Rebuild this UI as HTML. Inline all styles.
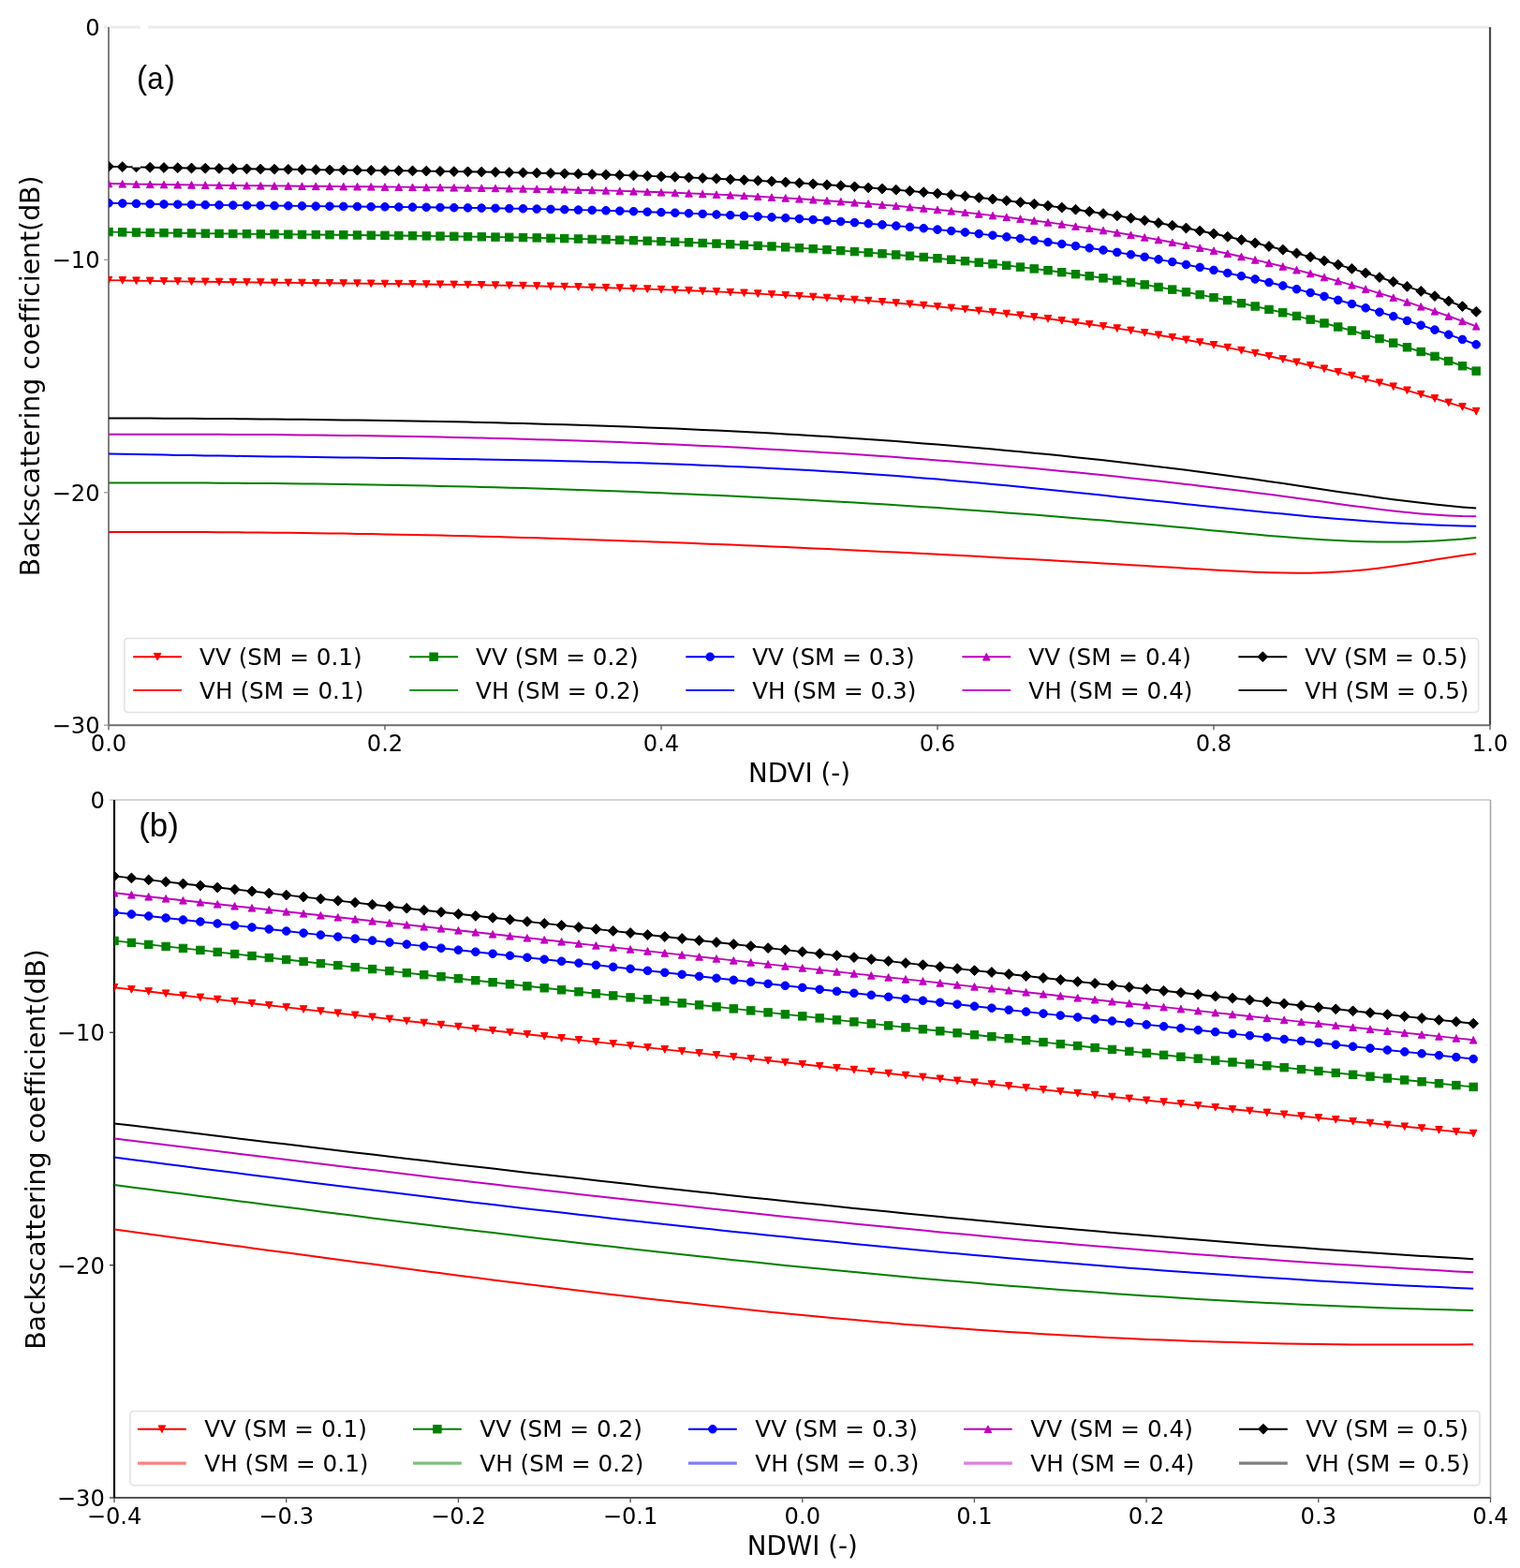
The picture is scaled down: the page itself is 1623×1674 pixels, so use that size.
<!DOCTYPE html>
<html><head><meta charset="utf-8"><title>Backscattering coefficient vs NDVI / NDWI</title>
<style>html,body{margin:0;padding:0;background:#fff;}svg{display:block;}text{font-variant-ligatures:none;font-feature-settings:'liga' 0,'clig' 0;}</style>
</head><body>
<svg width="1623" height="1674" viewBox="0 0 1623 1674" font-family="'DejaVu Sans', sans-serif" fill="#000">
<rect width="1623" height="1674" fill="#fff"/>
<clipPath id="ca"><rect x="116.0" y="19.0" width="1475.0" height="755.2"/></clipPath>
<line x1="111.0" y1="29.0" x2="1591.0" y2="29.0" stroke="#ececec" stroke-width="3.0"/>
<line x1="1591.0" y1="29.0" x2="1591.0" y2="774.2" stroke="#4a4a4a" stroke-width="2.2"/>
<line x1="116.0" y1="774.2" x2="1591.0" y2="774.2" stroke="#6e6e6e" stroke-width="2.0"/>
<line x1="116.0" y1="29.0" x2="116.0" y2="774.2" stroke="#808080" stroke-width="2.0"/>
<g clip-path="url(#ca)">
<polyline points="116.0,568.0 130.8,568.0 145.5,567.9 160.2,567.9 175.0,567.9 189.8,568.0 204.5,568.0 219.2,568.1 234.0,568.2 248.8,568.3 263.5,568.4 278.2,568.5 293.0,568.7 307.8,568.8 322.5,569.0 337.2,569.2 352.0,569.4 366.8,569.6 381.5,569.9 396.2,570.1 411.0,570.4 425.8,570.7 440.5,571.0 455.2,571.3 470.0,571.6 484.8,572.0 499.5,572.3 514.2,572.7 529.0,573.1 543.8,573.5 558.5,573.9 573.2,574.3 588.0,574.8 602.8,575.2 617.5,575.7 632.2,576.2 647.0,576.7 661.8,577.2 676.5,577.7 691.2,578.2 706.0,578.7 720.8,579.3 735.5,579.8 750.2,580.4 765.0,581.0 779.8,581.6 794.5,582.2 809.2,582.8 824.0,583.5 838.8,584.1 853.5,584.8 868.2,585.4 883.0,586.1 897.8,586.8 912.5,587.5 927.2,588.2 942.0,588.9 956.8,589.6 971.5,590.3 986.2,591.1 1001.0,591.8 1015.8,592.6 1030.5,593.3 1045.2,594.1 1060.0,594.9 1074.8,595.7 1089.5,596.5 1104.2,597.3 1119.0,598.1 1133.8,598.9 1148.5,599.8 1163.2,600.6 1178.0,601.5 1192.8,602.3 1207.5,603.2 1222.2,604.0 1237.0,604.9 1251.8,605.8 1266.5,606.7 1281.2,607.6 1296.0,608.5 1310.8,609.3 1325.5,610.1 1340.2,610.7 1355.0,611.3 1369.8,611.6 1384.5,611.8 1399.2,611.7 1414.0,611.3 1428.8,610.6 1443.5,609.6 1458.2,608.2 1473.0,606.5 1487.8,604.5 1502.5,602.3 1517.2,600.0 1532.0,597.6 1546.8,595.3 1561.5,593.0 1576.2,590.9" fill="none" stroke="#ff0000" stroke-width="2.0" stroke-linejoin="round"/>
<polyline points="116.0,515.5 130.8,515.5 145.5,515.5 160.2,515.5 175.0,515.5 189.8,515.5 204.5,515.6 219.2,515.6 234.0,515.7 248.8,515.8 263.5,515.9 278.2,516.0 293.0,516.1 307.8,516.3 322.5,516.5 337.2,516.6 352.0,516.8 366.8,517.0 381.5,517.2 396.2,517.5 411.0,517.7 425.8,518.0 440.5,518.3 455.2,518.6 470.0,518.9 484.8,519.2 499.5,519.6 514.2,519.9 529.0,520.3 543.8,520.7 558.5,521.1 573.2,521.6 588.0,522.0 602.8,522.5 617.5,523.0 632.2,523.5 647.0,524.0 661.8,524.5 676.5,525.1 691.2,525.7 706.0,526.3 720.8,526.9 735.5,527.5 750.2,528.2 765.0,528.8 779.8,529.5 794.5,530.2 809.2,530.9 824.0,531.7 838.8,532.4 853.5,533.2 868.2,534.0 883.0,534.9 897.8,535.7 912.5,536.6 927.2,537.4 942.0,538.3 956.8,539.3 971.5,540.2 986.2,541.2 1001.0,542.1 1015.8,543.2 1030.5,544.2 1045.2,545.2 1060.0,546.3 1074.8,547.4 1089.5,548.5 1104.2,549.6 1119.0,550.8 1133.8,552.0 1148.5,553.2 1163.2,554.4 1178.0,555.6 1192.8,556.9 1207.5,558.2 1222.2,559.5 1237.0,560.8 1251.8,562.2 1266.5,563.5 1281.2,564.9 1296.0,566.4 1310.8,567.8 1325.5,569.2 1340.2,570.5 1355.0,571.9 1369.8,573.1 1384.5,574.3 1399.2,575.3 1414.0,576.3 1428.8,577.1 1443.5,577.7 1458.2,578.2 1473.0,578.5 1487.8,578.6 1502.5,578.5 1517.2,578.1 1532.0,577.5 1546.8,576.6 1561.5,575.5 1576.2,574.0" fill="none" stroke="#008000" stroke-width="2.0" stroke-linejoin="round"/>
<polyline points="116.0,484.4 130.8,484.7 145.5,485.0 160.2,485.3 175.0,485.6 189.8,485.9 204.5,486.1 219.2,486.4 234.0,486.6 248.8,486.8 263.5,487.0 278.2,487.2 293.0,487.4 307.8,487.6 322.5,487.8 337.2,488.0 352.0,488.2 366.8,488.4 381.5,488.6 396.2,488.7 411.0,488.9 425.8,489.1 440.5,489.3 455.2,489.5 470.0,489.7 484.8,490.0 499.5,490.2 514.2,490.4 529.0,490.7 543.8,491.0 558.5,491.2 573.2,491.5 588.0,491.8 602.8,492.2 617.5,492.5 632.2,492.9 647.0,493.3 661.8,493.7 676.5,494.1 691.2,494.6 706.0,495.1 720.8,495.6 735.5,496.1 750.2,496.7 765.0,497.3 779.8,497.9 794.5,498.5 809.2,499.2 824.0,499.9 838.8,500.7 853.5,501.5 868.2,502.3 883.0,503.2 897.8,504.1 912.5,505.0 927.2,506.0 942.0,507.1 956.8,508.1 971.5,509.3 986.2,510.4 1001.0,511.6 1015.8,512.9 1030.5,514.2 1045.2,515.5 1060.0,516.9 1074.8,518.3 1089.5,519.8 1104.2,521.2 1119.0,522.7 1133.8,524.2 1148.5,525.7 1163.2,527.3 1178.0,528.8 1192.8,530.4 1207.5,531.9 1222.2,533.5 1237.0,535.0 1251.8,536.6 1266.5,538.2 1281.2,539.7 1296.0,541.2 1310.8,542.8 1325.5,544.3 1340.2,545.7 1355.0,547.2 1369.8,548.6 1384.5,550.0 1399.2,551.4 1414.0,552.7 1428.8,553.9 1443.5,555.1 1458.2,556.2 1473.0,557.3 1487.8,558.2 1502.5,559.1 1517.2,559.8 1532.0,560.5 1546.8,561.1 1561.5,561.5 1576.2,561.8" fill="none" stroke="#0000ff" stroke-width="2.0" stroke-linejoin="round"/>
<polyline points="116.0,463.7 130.8,463.7 145.5,463.7 160.2,463.7 175.0,463.7 189.8,463.7 204.5,463.7 219.2,463.8 234.0,463.8 248.8,463.9 263.5,463.9 278.2,464.0 293.0,464.1 307.8,464.3 322.5,464.4 337.2,464.5 352.0,464.7 366.8,464.9 381.5,465.1 396.2,465.3 411.0,465.5 425.8,465.8 440.5,466.0 455.2,466.3 470.0,466.6 484.8,466.9 499.5,467.2 514.2,467.6 529.0,468.0 543.8,468.3 558.5,468.7 573.2,469.2 588.0,469.6 602.8,470.1 617.5,470.6 632.2,471.1 647.0,471.6 661.8,472.1 676.5,472.7 691.2,473.3 706.0,473.9 720.8,474.6 735.5,475.2 750.2,475.9 765.0,476.6 779.8,477.3 794.5,478.1 809.2,478.9 824.0,479.7 838.8,480.5 853.5,481.4 868.2,482.3 883.0,483.2 897.8,484.1 912.5,485.1 927.2,486.0 942.0,487.1 956.8,488.1 971.5,489.2 986.2,490.3 1001.0,491.4 1015.8,492.6 1030.5,493.7 1045.2,495.0 1060.0,496.2 1074.8,497.5 1089.5,498.8 1104.2,500.1 1119.0,501.5 1133.8,502.9 1148.5,504.3 1163.2,505.8 1178.0,507.3 1192.8,508.8 1207.5,510.4 1222.2,511.9 1237.0,513.6 1251.8,515.2 1266.5,516.9 1281.2,518.7 1296.0,520.4 1310.8,522.2 1325.5,524.0 1340.2,525.9 1355.0,527.8 1369.8,529.8 1384.5,531.7 1399.2,533.8 1414.0,535.8 1428.8,537.9 1443.5,539.9 1458.2,541.8 1473.0,543.7 1487.8,545.5 1502.5,547.0 1517.2,548.4 1532.0,549.6 1546.8,550.5 1561.5,551.1 1576.2,551.3" fill="none" stroke="#bf00bf" stroke-width="2.0" stroke-linejoin="round"/>
<polyline points="116.0,446.4 130.8,446.4 145.5,446.5 160.2,446.6 175.0,446.7 189.8,446.7 204.5,446.8 219.2,446.9 234.0,447.0 248.8,447.1 263.5,447.3 278.2,447.4 293.0,447.5 307.8,447.7 322.5,447.8 337.2,448.0 352.0,448.2 366.8,448.4 381.5,448.6 396.2,448.8 411.0,449.0 425.8,449.2 440.5,449.5 455.2,449.7 470.0,450.0 484.8,450.3 499.5,450.6 514.2,451.0 529.0,451.3 543.8,451.7 558.5,452.1 573.2,452.5 588.0,452.9 602.8,453.3 617.5,453.8 632.2,454.3 647.0,454.8 661.8,455.3 676.5,455.8 691.2,456.4 706.0,457.0 720.8,457.6 735.5,458.3 750.2,458.9 765.0,459.6 779.8,460.3 794.5,461.1 809.2,461.8 824.0,462.6 838.8,463.5 853.5,464.3 868.2,465.2 883.0,466.1 897.8,467.1 912.5,468.0 927.2,469.0 942.0,470.1 956.8,471.1 971.5,472.2 986.2,473.4 1001.0,474.5 1015.8,475.7 1030.5,477.0 1045.2,478.2 1060.0,479.5 1074.8,480.9 1089.5,482.3 1104.2,483.7 1119.0,485.1 1133.8,486.6 1148.5,488.2 1163.2,489.7 1178.0,491.3 1192.8,493.0 1207.5,494.7 1222.2,496.4 1237.0,498.2 1251.8,500.0 1266.5,501.8 1281.2,503.7 1296.0,505.7 1310.8,507.7 1325.5,509.7 1340.2,511.8 1355.0,513.9 1369.8,516.1 1384.5,518.3 1399.2,520.5 1414.0,522.7 1428.8,524.9 1443.5,527.0 1458.2,529.1 1473.0,531.2 1487.8,533.2 1502.5,535.1 1517.2,536.8 1532.0,538.5 1546.8,540.0 1561.5,541.4 1576.2,542.6" fill="none" stroke="#000000" stroke-width="2.0" stroke-linejoin="round"/>
<polyline points="116.0,299.1 130.8,299.4 145.5,299.7 160.2,299.9 175.0,300.2 189.8,300.4 204.5,300.6 219.2,300.8 234.0,301.0 248.8,301.2 263.5,301.4 278.2,301.5 293.0,301.7 307.8,301.9 322.5,302.0 337.2,302.2 352.0,302.3 366.8,302.5 381.5,302.6 396.2,302.8 411.0,303.0 425.8,303.1 440.5,303.3 455.2,303.5 470.0,303.7 484.8,303.9 499.5,304.1 514.2,304.3 529.0,304.6 543.8,304.8 558.5,305.1 573.2,305.4 588.0,305.7 602.8,306.1 617.5,306.4 632.2,306.8 647.0,307.2 661.8,307.6 676.5,308.1 691.2,308.6 706.0,309.1 720.8,309.6 735.5,310.2 750.2,310.8 765.0,311.4 779.8,312.1 794.5,312.8 809.2,313.6 824.0,314.4 838.8,315.2 853.5,316.1 868.2,317.0 883.0,318.0 897.8,319.0 912.5,320.0 927.2,321.1 942.0,322.3 956.8,323.5 971.5,324.7 986.2,326.0 1001.0,327.4 1015.8,328.8 1030.5,330.2 1045.2,331.8 1060.0,333.4 1074.8,335.0 1089.5,336.7 1104.2,338.5 1119.0,340.3 1133.8,342.3 1148.5,344.2 1163.2,346.3 1178.0,348.4 1192.8,350.6 1207.5,352.9 1222.2,355.3 1237.0,357.7 1251.8,360.2 1266.5,362.8 1281.2,365.5 1296.0,368.3 1310.8,371.1 1325.5,374.1 1340.2,377.1 1355.0,380.2 1369.8,383.5 1384.5,386.8 1399.2,390.2 1414.0,393.7 1428.8,397.3 1443.5,401.0 1458.2,404.8 1473.0,408.7 1487.8,412.7 1502.5,416.8 1517.2,421.1 1532.0,425.4 1546.8,429.9 1561.5,434.4 1576.2,439.1" fill="none" stroke="#ff0000" stroke-width="1.9" stroke-linejoin="round"/>
<g><path d="M116.0 302.9L119.8 295.3L112.2 295.3Z" fill="#ff0000" stroke="#ff0000" stroke-width="1"/><path d="M130.8 303.2L134.6 295.6L127.0 295.6Z" fill="#ff0000" stroke="#ff0000" stroke-width="1"/><path d="M145.5 303.5L149.3 295.9L141.7 295.9Z" fill="#ff0000" stroke="#ff0000" stroke-width="1"/><path d="M160.2 303.7L164.1 296.1L156.4 296.1Z" fill="#ff0000" stroke="#ff0000" stroke-width="1"/><path d="M175.0 304.0L178.8 296.4L171.2 296.4Z" fill="#ff0000" stroke="#ff0000" stroke-width="1"/><path d="M189.8 304.2L193.6 296.6L185.9 296.6Z" fill="#ff0000" stroke="#ff0000" stroke-width="1"/><path d="M204.5 304.4L208.3 296.8L200.7 296.8Z" fill="#ff0000" stroke="#ff0000" stroke-width="1"/><path d="M219.2 304.6L223.1 297.0L215.4 297.0Z" fill="#ff0000" stroke="#ff0000" stroke-width="1"/><path d="M234.0 304.8L237.8 297.2L230.2 297.2Z" fill="#ff0000" stroke="#ff0000" stroke-width="1"/><path d="M248.8 305.0L252.6 297.4L244.9 297.4Z" fill="#ff0000" stroke="#ff0000" stroke-width="1"/><path d="M263.5 305.2L267.3 297.6L259.7 297.6Z" fill="#ff0000" stroke="#ff0000" stroke-width="1"/><path d="M278.2 305.3L282.1 297.7L274.4 297.7Z" fill="#ff0000" stroke="#ff0000" stroke-width="1"/><path d="M293.0 305.5L296.8 297.9L289.2 297.9Z" fill="#ff0000" stroke="#ff0000" stroke-width="1"/><path d="M307.8 305.7L311.6 298.1L303.9 298.1Z" fill="#ff0000" stroke="#ff0000" stroke-width="1"/><path d="M322.5 305.8L326.3 298.2L318.7 298.2Z" fill="#ff0000" stroke="#ff0000" stroke-width="1"/><path d="M337.2 306.0L341.1 298.4L333.4 298.4Z" fill="#ff0000" stroke="#ff0000" stroke-width="1"/><path d="M352.0 306.1L355.8 298.5L348.2 298.5Z" fill="#ff0000" stroke="#ff0000" stroke-width="1"/><path d="M366.8 306.3L370.6 298.7L362.9 298.7Z" fill="#ff0000" stroke="#ff0000" stroke-width="1"/><path d="M381.5 306.4L385.3 298.8L377.7 298.8Z" fill="#ff0000" stroke="#ff0000" stroke-width="1"/><path d="M396.2 306.6L400.1 299.0L392.4 299.0Z" fill="#ff0000" stroke="#ff0000" stroke-width="1"/><path d="M411.0 306.8L414.8 299.2L407.2 299.2Z" fill="#ff0000" stroke="#ff0000" stroke-width="1"/><path d="M425.8 306.9L429.6 299.3L421.9 299.3Z" fill="#ff0000" stroke="#ff0000" stroke-width="1"/><path d="M440.5 307.1L444.3 299.5L436.7 299.5Z" fill="#ff0000" stroke="#ff0000" stroke-width="1"/><path d="M455.2 307.3L459.1 299.7L451.4 299.7Z" fill="#ff0000" stroke="#ff0000" stroke-width="1"/><path d="M470.0 307.5L473.8 299.9L466.2 299.9Z" fill="#ff0000" stroke="#ff0000" stroke-width="1"/><path d="M484.8 307.7L488.6 300.1L480.9 300.1Z" fill="#ff0000" stroke="#ff0000" stroke-width="1"/><path d="M499.5 307.9L503.3 300.3L495.7 300.3Z" fill="#ff0000" stroke="#ff0000" stroke-width="1"/><path d="M514.2 308.1L518.0 300.5L510.4 300.5Z" fill="#ff0000" stroke="#ff0000" stroke-width="1"/><path d="M529.0 308.4L532.8 300.8L525.2 300.8Z" fill="#ff0000" stroke="#ff0000" stroke-width="1"/><path d="M543.8 308.6L547.5 301.0L540.0 301.0Z" fill="#ff0000" stroke="#ff0000" stroke-width="1"/><path d="M558.5 308.9L562.3 301.3L554.7 301.3Z" fill="#ff0000" stroke="#ff0000" stroke-width="1"/><path d="M573.2 309.2L577.0 301.6L569.5 301.6Z" fill="#ff0000" stroke="#ff0000" stroke-width="1"/><path d="M588.0 309.5L591.8 301.9L584.2 301.9Z" fill="#ff0000" stroke="#ff0000" stroke-width="1"/><path d="M602.8 309.9L606.5 302.3L599.0 302.3Z" fill="#ff0000" stroke="#ff0000" stroke-width="1"/><path d="M617.5 310.2L621.3 302.6L613.7 302.6Z" fill="#ff0000" stroke="#ff0000" stroke-width="1"/><path d="M632.2 310.6L636.0 303.0L628.5 303.0Z" fill="#ff0000" stroke="#ff0000" stroke-width="1"/><path d="M647.0 311.0L650.8 303.4L643.2 303.4Z" fill="#ff0000" stroke="#ff0000" stroke-width="1"/><path d="M661.8 311.4L665.5 303.8L658.0 303.8Z" fill="#ff0000" stroke="#ff0000" stroke-width="1"/><path d="M676.5 311.9L680.3 304.3L672.7 304.3Z" fill="#ff0000" stroke="#ff0000" stroke-width="1"/><path d="M691.2 312.4L695.0 304.8L687.5 304.8Z" fill="#ff0000" stroke="#ff0000" stroke-width="1"/><path d="M706.0 312.9L709.8 305.3L702.2 305.3Z" fill="#ff0000" stroke="#ff0000" stroke-width="1"/><path d="M720.8 313.4L724.5 305.8L717.0 305.8Z" fill="#ff0000" stroke="#ff0000" stroke-width="1"/><path d="M735.5 314.0L739.3 306.4L731.7 306.4Z" fill="#ff0000" stroke="#ff0000" stroke-width="1"/><path d="M750.2 314.6L754.0 307.0L746.5 307.0Z" fill="#ff0000" stroke="#ff0000" stroke-width="1"/><path d="M765.0 315.2L768.8 307.6L761.2 307.6Z" fill="#ff0000" stroke="#ff0000" stroke-width="1"/><path d="M779.8 315.9L783.5 308.3L776.0 308.3Z" fill="#ff0000" stroke="#ff0000" stroke-width="1"/><path d="M794.5 316.6L798.3 309.0L790.7 309.0Z" fill="#ff0000" stroke="#ff0000" stroke-width="1"/><path d="M809.2 317.4L813.0 309.8L805.5 309.8Z" fill="#ff0000" stroke="#ff0000" stroke-width="1"/><path d="M824.0 318.2L827.8 310.6L820.2 310.6Z" fill="#ff0000" stroke="#ff0000" stroke-width="1"/><path d="M838.8 319.0L842.5 311.4L835.0 311.4Z" fill="#ff0000" stroke="#ff0000" stroke-width="1"/><path d="M853.5 319.9L857.3 312.3L849.7 312.3Z" fill="#ff0000" stroke="#ff0000" stroke-width="1"/><path d="M868.2 320.8L872.0 313.2L864.5 313.2Z" fill="#ff0000" stroke="#ff0000" stroke-width="1"/><path d="M883.0 321.8L886.8 314.2L879.2 314.2Z" fill="#ff0000" stroke="#ff0000" stroke-width="1"/><path d="M897.8 322.8L901.5 315.2L894.0 315.2Z" fill="#ff0000" stroke="#ff0000" stroke-width="1"/><path d="M912.5 323.8L916.3 316.2L908.7 316.2Z" fill="#ff0000" stroke="#ff0000" stroke-width="1"/><path d="M927.2 324.9L931.0 317.3L923.5 317.3Z" fill="#ff0000" stroke="#ff0000" stroke-width="1"/><path d="M942.0 326.1L945.8 318.5L938.2 318.5Z" fill="#ff0000" stroke="#ff0000" stroke-width="1"/><path d="M956.8 327.3L960.5 319.7L953.0 319.7Z" fill="#ff0000" stroke="#ff0000" stroke-width="1"/><path d="M971.5 328.5L975.3 320.9L967.7 320.9Z" fill="#ff0000" stroke="#ff0000" stroke-width="1"/><path d="M986.2 329.8L990.0 322.2L982.5 322.2Z" fill="#ff0000" stroke="#ff0000" stroke-width="1"/><path d="M1001.0 331.2L1004.8 323.6L997.2 323.6Z" fill="#ff0000" stroke="#ff0000" stroke-width="1"/><path d="M1015.8 332.6L1019.5 325.0L1012.0 325.0Z" fill="#ff0000" stroke="#ff0000" stroke-width="1"/><path d="M1030.5 334.0L1034.3 326.4L1026.7 326.4Z" fill="#ff0000" stroke="#ff0000" stroke-width="1"/><path d="M1045.2 335.6L1049.0 328.0L1041.5 328.0Z" fill="#ff0000" stroke="#ff0000" stroke-width="1"/><path d="M1060.0 337.2L1063.8 329.6L1056.2 329.6Z" fill="#ff0000" stroke="#ff0000" stroke-width="1"/><path d="M1074.8 338.8L1078.5 331.2L1071.0 331.2Z" fill="#ff0000" stroke="#ff0000" stroke-width="1"/><path d="M1089.5 340.5L1093.3 332.9L1085.7 332.9Z" fill="#ff0000" stroke="#ff0000" stroke-width="1"/><path d="M1104.2 342.3L1108.0 334.7L1100.5 334.7Z" fill="#ff0000" stroke="#ff0000" stroke-width="1"/><path d="M1119.0 344.1L1122.8 336.5L1115.2 336.5Z" fill="#ff0000" stroke="#ff0000" stroke-width="1"/><path d="M1133.8 346.1L1137.5 338.5L1130.0 338.5Z" fill="#ff0000" stroke="#ff0000" stroke-width="1"/><path d="M1148.5 348.0L1152.3 340.4L1144.7 340.4Z" fill="#ff0000" stroke="#ff0000" stroke-width="1"/><path d="M1163.2 350.1L1167.0 342.5L1159.5 342.5Z" fill="#ff0000" stroke="#ff0000" stroke-width="1"/><path d="M1178.0 352.2L1181.8 344.6L1174.2 344.6Z" fill="#ff0000" stroke="#ff0000" stroke-width="1"/><path d="M1192.8 354.4L1196.5 346.8L1189.0 346.8Z" fill="#ff0000" stroke="#ff0000" stroke-width="1"/><path d="M1207.5 356.7L1211.3 349.1L1203.7 349.1Z" fill="#ff0000" stroke="#ff0000" stroke-width="1"/><path d="M1222.2 359.1L1226.0 351.5L1218.5 351.5Z" fill="#ff0000" stroke="#ff0000" stroke-width="1"/><path d="M1237.0 361.5L1240.8 353.9L1233.2 353.9Z" fill="#ff0000" stroke="#ff0000" stroke-width="1"/><path d="M1251.8 364.0L1255.5 356.4L1248.0 356.4Z" fill="#ff0000" stroke="#ff0000" stroke-width="1"/><path d="M1266.5 366.6L1270.3 359.0L1262.7 359.0Z" fill="#ff0000" stroke="#ff0000" stroke-width="1"/><path d="M1281.2 369.3L1285.0 361.7L1277.5 361.7Z" fill="#ff0000" stroke="#ff0000" stroke-width="1"/><path d="M1296.0 372.1L1299.8 364.5L1292.2 364.5Z" fill="#ff0000" stroke="#ff0000" stroke-width="1"/><path d="M1310.8 374.9L1314.5 367.3L1307.0 367.3Z" fill="#ff0000" stroke="#ff0000" stroke-width="1"/><path d="M1325.5 377.9L1329.3 370.3L1321.7 370.3Z" fill="#ff0000" stroke="#ff0000" stroke-width="1"/><path d="M1340.2 380.9L1344.0 373.3L1336.5 373.3Z" fill="#ff0000" stroke="#ff0000" stroke-width="1"/><path d="M1355.0 384.0L1358.8 376.4L1351.2 376.4Z" fill="#ff0000" stroke="#ff0000" stroke-width="1"/><path d="M1369.8 387.3L1373.5 379.7L1366.0 379.7Z" fill="#ff0000" stroke="#ff0000" stroke-width="1"/><path d="M1384.5 390.6L1388.3 383.0L1380.7 383.0Z" fill="#ff0000" stroke="#ff0000" stroke-width="1"/><path d="M1399.2 394.0L1403.0 386.4L1395.5 386.4Z" fill="#ff0000" stroke="#ff0000" stroke-width="1"/><path d="M1414.0 397.5L1417.8 389.9L1410.2 389.9Z" fill="#ff0000" stroke="#ff0000" stroke-width="1"/><path d="M1428.8 401.1L1432.5 393.5L1425.0 393.5Z" fill="#ff0000" stroke="#ff0000" stroke-width="1"/><path d="M1443.5 404.8L1447.3 397.2L1439.7 397.2Z" fill="#ff0000" stroke="#ff0000" stroke-width="1"/><path d="M1458.2 408.6L1462.0 401.0L1454.5 401.0Z" fill="#ff0000" stroke="#ff0000" stroke-width="1"/><path d="M1473.0 412.5L1476.8 404.9L1469.2 404.9Z" fill="#ff0000" stroke="#ff0000" stroke-width="1"/><path d="M1487.8 416.5L1491.5 408.9L1484.0 408.9Z" fill="#ff0000" stroke="#ff0000" stroke-width="1"/><path d="M1502.5 420.6L1506.3 413.0L1498.7 413.0Z" fill="#ff0000" stroke="#ff0000" stroke-width="1"/><path d="M1517.2 424.9L1521.0 417.3L1513.5 417.3Z" fill="#ff0000" stroke="#ff0000" stroke-width="1"/><path d="M1532.0 429.2L1535.8 421.6L1528.2 421.6Z" fill="#ff0000" stroke="#ff0000" stroke-width="1"/><path d="M1546.8 433.7L1550.5 426.1L1543.0 426.1Z" fill="#ff0000" stroke="#ff0000" stroke-width="1"/><path d="M1561.5 438.2L1565.3 430.6L1557.7 430.6Z" fill="#ff0000" stroke="#ff0000" stroke-width="1"/><path d="M1576.2 442.9L1580.0 435.3L1572.5 435.3Z" fill="#ff0000" stroke="#ff0000" stroke-width="1"/></g>
<polyline points="116.0,247.6 130.8,247.9 145.5,248.1 160.2,248.4 175.0,248.6 189.8,248.8 204.5,249.0 219.2,249.2 234.0,249.4 248.8,249.5 263.5,249.7 278.2,249.9 293.0,250.0 307.8,250.2 322.5,250.4 337.2,250.5 352.0,250.7 366.8,250.8 381.5,251.0 396.2,251.2 411.0,251.3 425.8,251.5 440.5,251.7 455.2,251.9 470.0,252.1 484.8,252.3 499.5,252.6 514.2,252.8 529.0,253.1 543.8,253.3 558.5,253.6 573.2,253.9 588.0,254.3 602.8,254.6 617.5,255.0 632.2,255.4 647.0,255.8 661.8,256.2 676.5,256.7 691.2,257.2 706.0,257.7 720.8,258.3 735.5,258.8 750.2,259.5 765.0,260.1 779.8,260.8 794.5,261.5 809.2,262.3 824.0,263.0 838.8,263.9 853.5,264.7 868.2,265.6 883.0,266.6 897.8,267.6 912.5,268.6 927.2,269.7 942.0,270.8 956.8,272.0 971.5,273.2 986.2,274.5 1001.0,275.8 1015.8,277.2 1030.5,278.7 1045.2,280.2 1060.0,281.8 1074.8,283.4 1089.5,285.1 1104.2,286.9 1119.0,288.7 1133.8,290.7 1148.5,292.7 1163.2,294.7 1178.0,296.9 1192.8,299.2 1207.5,301.5 1222.2,303.9 1237.0,306.5 1251.8,309.1 1266.5,311.8 1281.2,314.6 1296.0,317.6 1310.8,320.6 1325.5,323.7 1340.2,327.0 1355.0,330.4 1369.8,333.8 1384.5,337.4 1399.2,341.1 1414.0,345.0 1428.8,349.0 1443.5,353.0 1458.2,357.3 1473.0,361.6 1487.8,366.1 1502.5,370.8 1517.2,375.5 1532.0,380.4 1546.8,385.5 1561.5,390.7 1576.2,396.1" fill="none" stroke="#008000" stroke-width="1.9" stroke-linejoin="round"/>
<g><rect x="111.8" y="243.4" width="8.4" height="8.4" fill="#008000" stroke="#008000" stroke-width="1"/><rect x="126.5" y="243.7" width="8.4" height="8.4" fill="#008000" stroke="#008000" stroke-width="1"/><rect x="141.3" y="243.9" width="8.4" height="8.4" fill="#008000" stroke="#008000" stroke-width="1"/><rect x="156.1" y="244.2" width="8.4" height="8.4" fill="#008000" stroke="#008000" stroke-width="1"/><rect x="170.8" y="244.4" width="8.4" height="8.4" fill="#008000" stroke="#008000" stroke-width="1"/><rect x="185.6" y="244.6" width="8.4" height="8.4" fill="#008000" stroke="#008000" stroke-width="1"/><rect x="200.3" y="244.8" width="8.4" height="8.4" fill="#008000" stroke="#008000" stroke-width="1"/><rect x="215.1" y="245.0" width="8.4" height="8.4" fill="#008000" stroke="#008000" stroke-width="1"/><rect x="229.8" y="245.2" width="8.4" height="8.4" fill="#008000" stroke="#008000" stroke-width="1"/><rect x="244.6" y="245.3" width="8.4" height="8.4" fill="#008000" stroke="#008000" stroke-width="1"/><rect x="259.3" y="245.5" width="8.4" height="8.4" fill="#008000" stroke="#008000" stroke-width="1"/><rect x="274.1" y="245.7" width="8.4" height="8.4" fill="#008000" stroke="#008000" stroke-width="1"/><rect x="288.8" y="245.8" width="8.4" height="8.4" fill="#008000" stroke="#008000" stroke-width="1"/><rect x="303.6" y="246.0" width="8.4" height="8.4" fill="#008000" stroke="#008000" stroke-width="1"/><rect x="318.3" y="246.2" width="8.4" height="8.4" fill="#008000" stroke="#008000" stroke-width="1"/><rect x="333.1" y="246.3" width="8.4" height="8.4" fill="#008000" stroke="#008000" stroke-width="1"/><rect x="347.8" y="246.5" width="8.4" height="8.4" fill="#008000" stroke="#008000" stroke-width="1"/><rect x="362.6" y="246.6" width="8.4" height="8.4" fill="#008000" stroke="#008000" stroke-width="1"/><rect x="377.3" y="246.8" width="8.4" height="8.4" fill="#008000" stroke="#008000" stroke-width="1"/><rect x="392.1" y="247.0" width="8.4" height="8.4" fill="#008000" stroke="#008000" stroke-width="1"/><rect x="406.8" y="247.1" width="8.4" height="8.4" fill="#008000" stroke="#008000" stroke-width="1"/><rect x="421.6" y="247.3" width="8.4" height="8.4" fill="#008000" stroke="#008000" stroke-width="1"/><rect x="436.3" y="247.5" width="8.4" height="8.4" fill="#008000" stroke="#008000" stroke-width="1"/><rect x="451.1" y="247.7" width="8.4" height="8.4" fill="#008000" stroke="#008000" stroke-width="1"/><rect x="465.8" y="247.9" width="8.4" height="8.4" fill="#008000" stroke="#008000" stroke-width="1"/><rect x="480.6" y="248.1" width="8.4" height="8.4" fill="#008000" stroke="#008000" stroke-width="1"/><rect x="495.3" y="248.4" width="8.4" height="8.4" fill="#008000" stroke="#008000" stroke-width="1"/><rect x="510.1" y="248.6" width="8.4" height="8.4" fill="#008000" stroke="#008000" stroke-width="1"/><rect x="524.8" y="248.9" width="8.4" height="8.4" fill="#008000" stroke="#008000" stroke-width="1"/><rect x="539.5" y="249.1" width="8.4" height="8.4" fill="#008000" stroke="#008000" stroke-width="1"/><rect x="554.3" y="249.4" width="8.4" height="8.4" fill="#008000" stroke="#008000" stroke-width="1"/><rect x="569.0" y="249.7" width="8.4" height="8.4" fill="#008000" stroke="#008000" stroke-width="1"/><rect x="583.8" y="250.1" width="8.4" height="8.4" fill="#008000" stroke="#008000" stroke-width="1"/><rect x="598.5" y="250.4" width="8.4" height="8.4" fill="#008000" stroke="#008000" stroke-width="1"/><rect x="613.3" y="250.8" width="8.4" height="8.4" fill="#008000" stroke="#008000" stroke-width="1"/><rect x="628.0" y="251.2" width="8.4" height="8.4" fill="#008000" stroke="#008000" stroke-width="1"/><rect x="642.8" y="251.6" width="8.4" height="8.4" fill="#008000" stroke="#008000" stroke-width="1"/><rect x="657.5" y="252.0" width="8.4" height="8.4" fill="#008000" stroke="#008000" stroke-width="1"/><rect x="672.3" y="252.5" width="8.4" height="8.4" fill="#008000" stroke="#008000" stroke-width="1"/><rect x="687.0" y="253.0" width="8.4" height="8.4" fill="#008000" stroke="#008000" stroke-width="1"/><rect x="701.8" y="253.5" width="8.4" height="8.4" fill="#008000" stroke="#008000" stroke-width="1"/><rect x="716.5" y="254.1" width="8.4" height="8.4" fill="#008000" stroke="#008000" stroke-width="1"/><rect x="731.3" y="254.6" width="8.4" height="8.4" fill="#008000" stroke="#008000" stroke-width="1"/><rect x="746.0" y="255.3" width="8.4" height="8.4" fill="#008000" stroke="#008000" stroke-width="1"/><rect x="760.8" y="255.9" width="8.4" height="8.4" fill="#008000" stroke="#008000" stroke-width="1"/><rect x="775.5" y="256.6" width="8.4" height="8.4" fill="#008000" stroke="#008000" stroke-width="1"/><rect x="790.3" y="257.3" width="8.4" height="8.4" fill="#008000" stroke="#008000" stroke-width="1"/><rect x="805.0" y="258.1" width="8.4" height="8.4" fill="#008000" stroke="#008000" stroke-width="1"/><rect x="819.8" y="258.8" width="8.4" height="8.4" fill="#008000" stroke="#008000" stroke-width="1"/><rect x="834.5" y="259.7" width="8.4" height="8.4" fill="#008000" stroke="#008000" stroke-width="1"/><rect x="849.3" y="260.5" width="8.4" height="8.4" fill="#008000" stroke="#008000" stroke-width="1"/><rect x="864.0" y="261.4" width="8.4" height="8.4" fill="#008000" stroke="#008000" stroke-width="1"/><rect x="878.8" y="262.4" width="8.4" height="8.4" fill="#008000" stroke="#008000" stroke-width="1"/><rect x="893.5" y="263.4" width="8.4" height="8.4" fill="#008000" stroke="#008000" stroke-width="1"/><rect x="908.3" y="264.4" width="8.4" height="8.4" fill="#008000" stroke="#008000" stroke-width="1"/><rect x="923.0" y="265.5" width="8.4" height="8.4" fill="#008000" stroke="#008000" stroke-width="1"/><rect x="937.8" y="266.6" width="8.4" height="8.4" fill="#008000" stroke="#008000" stroke-width="1"/><rect x="952.5" y="267.8" width="8.4" height="8.4" fill="#008000" stroke="#008000" stroke-width="1"/><rect x="967.3" y="269.0" width="8.4" height="8.4" fill="#008000" stroke="#008000" stroke-width="1"/><rect x="982.0" y="270.3" width="8.4" height="8.4" fill="#008000" stroke="#008000" stroke-width="1"/><rect x="996.8" y="271.6" width="8.4" height="8.4" fill="#008000" stroke="#008000" stroke-width="1"/><rect x="1011.5" y="273.0" width="8.4" height="8.4" fill="#008000" stroke="#008000" stroke-width="1"/><rect x="1026.3" y="274.5" width="8.4" height="8.4" fill="#008000" stroke="#008000" stroke-width="1"/><rect x="1041.0" y="276.0" width="8.4" height="8.4" fill="#008000" stroke="#008000" stroke-width="1"/><rect x="1055.8" y="277.6" width="8.4" height="8.4" fill="#008000" stroke="#008000" stroke-width="1"/><rect x="1070.5" y="279.2" width="8.4" height="8.4" fill="#008000" stroke="#008000" stroke-width="1"/><rect x="1085.3" y="280.9" width="8.4" height="8.4" fill="#008000" stroke="#008000" stroke-width="1"/><rect x="1100.0" y="282.7" width="8.4" height="8.4" fill="#008000" stroke="#008000" stroke-width="1"/><rect x="1114.8" y="284.5" width="8.4" height="8.4" fill="#008000" stroke="#008000" stroke-width="1"/><rect x="1129.5" y="286.5" width="8.4" height="8.4" fill="#008000" stroke="#008000" stroke-width="1"/><rect x="1144.3" y="288.5" width="8.4" height="8.4" fill="#008000" stroke="#008000" stroke-width="1"/><rect x="1159.0" y="290.5" width="8.4" height="8.4" fill="#008000" stroke="#008000" stroke-width="1"/><rect x="1173.8" y="292.7" width="8.4" height="8.4" fill="#008000" stroke="#008000" stroke-width="1"/><rect x="1188.5" y="295.0" width="8.4" height="8.4" fill="#008000" stroke="#008000" stroke-width="1"/><rect x="1203.3" y="297.3" width="8.4" height="8.4" fill="#008000" stroke="#008000" stroke-width="1"/><rect x="1218.0" y="299.7" width="8.4" height="8.4" fill="#008000" stroke="#008000" stroke-width="1"/><rect x="1232.8" y="302.3" width="8.4" height="8.4" fill="#008000" stroke="#008000" stroke-width="1"/><rect x="1247.5" y="304.9" width="8.4" height="8.4" fill="#008000" stroke="#008000" stroke-width="1"/><rect x="1262.3" y="307.6" width="8.4" height="8.4" fill="#008000" stroke="#008000" stroke-width="1"/><rect x="1277.0" y="310.4" width="8.4" height="8.4" fill="#008000" stroke="#008000" stroke-width="1"/><rect x="1291.8" y="313.4" width="8.4" height="8.4" fill="#008000" stroke="#008000" stroke-width="1"/><rect x="1306.5" y="316.4" width="8.4" height="8.4" fill="#008000" stroke="#008000" stroke-width="1"/><rect x="1321.3" y="319.5" width="8.4" height="8.4" fill="#008000" stroke="#008000" stroke-width="1"/><rect x="1336.0" y="322.8" width="8.4" height="8.4" fill="#008000" stroke="#008000" stroke-width="1"/><rect x="1350.8" y="326.2" width="8.4" height="8.4" fill="#008000" stroke="#008000" stroke-width="1"/><rect x="1365.5" y="329.6" width="8.4" height="8.4" fill="#008000" stroke="#008000" stroke-width="1"/><rect x="1380.3" y="333.2" width="8.4" height="8.4" fill="#008000" stroke="#008000" stroke-width="1"/><rect x="1395.0" y="336.9" width="8.4" height="8.4" fill="#008000" stroke="#008000" stroke-width="1"/><rect x="1409.8" y="340.8" width="8.4" height="8.4" fill="#008000" stroke="#008000" stroke-width="1"/><rect x="1424.5" y="344.8" width="8.4" height="8.4" fill="#008000" stroke="#008000" stroke-width="1"/><rect x="1439.3" y="348.8" width="8.4" height="8.4" fill="#008000" stroke="#008000" stroke-width="1"/><rect x="1454.0" y="353.1" width="8.4" height="8.4" fill="#008000" stroke="#008000" stroke-width="1"/><rect x="1468.8" y="357.4" width="8.4" height="8.4" fill="#008000" stroke="#008000" stroke-width="1"/><rect x="1483.5" y="361.9" width="8.4" height="8.4" fill="#008000" stroke="#008000" stroke-width="1"/><rect x="1498.3" y="366.6" width="8.4" height="8.4" fill="#008000" stroke="#008000" stroke-width="1"/><rect x="1513.0" y="371.3" width="8.4" height="8.4" fill="#008000" stroke="#008000" stroke-width="1"/><rect x="1527.8" y="376.2" width="8.4" height="8.4" fill="#008000" stroke="#008000" stroke-width="1"/><rect x="1542.5" y="381.3" width="8.4" height="8.4" fill="#008000" stroke="#008000" stroke-width="1"/><rect x="1557.3" y="386.5" width="8.4" height="8.4" fill="#008000" stroke="#008000" stroke-width="1"/><rect x="1572.0" y="391.9" width="8.4" height="8.4" fill="#008000" stroke="#008000" stroke-width="1"/></g>
<polyline points="116.0,216.8 130.8,217.1 145.5,217.4 160.2,217.7 175.0,218.0 189.8,218.2 204.5,218.5 219.2,218.7 234.0,218.9 248.8,219.1 263.5,219.3 278.2,219.4 293.0,219.6 307.8,219.7 322.5,219.9 337.2,220.1 352.0,220.2 366.8,220.4 381.5,220.5 396.2,220.7 411.0,220.8 425.8,221.0 440.5,221.1 455.2,221.3 470.0,221.5 484.8,221.7 499.5,221.9 514.2,222.1 529.0,222.3 543.8,222.6 558.5,222.8 573.2,223.1 588.0,223.4 602.8,223.7 617.5,224.1 632.2,224.4 647.0,224.8 661.8,225.2 676.5,225.7 691.2,226.2 706.0,226.7 720.8,227.2 735.5,227.8 750.2,228.4 765.0,229.0 779.8,229.7 794.5,230.4 809.2,231.1 824.0,231.9 838.8,232.7 853.5,233.6 868.2,234.5 883.0,235.5 897.8,236.5 912.5,237.6 927.2,238.7 942.0,239.9 956.8,241.1 971.5,242.3 986.2,243.7 1001.0,245.1 1015.8,246.5 1030.5,248.0 1045.2,249.6 1060.0,251.2 1074.8,252.9 1089.5,254.7 1104.2,256.6 1119.0,258.5 1133.8,260.5 1148.5,262.6 1163.2,264.8 1178.0,267.0 1192.8,269.4 1207.5,271.8 1222.2,274.3 1237.0,276.9 1251.8,279.6 1266.5,282.5 1281.2,285.4 1296.0,288.4 1310.8,291.5 1325.5,294.7 1340.2,298.0 1355.0,301.5 1369.8,305.0 1384.5,308.7 1399.2,312.5 1414.0,316.4 1428.8,320.4 1443.5,324.5 1458.2,328.8 1473.0,333.2 1487.8,337.7 1502.5,342.4 1517.2,347.2 1532.0,352.1 1546.8,357.2 1561.5,362.4 1576.2,367.8" fill="none" stroke="#0000ff" stroke-width="1.9" stroke-linejoin="round"/>
<g><circle cx="116.0" cy="216.8" r="4.3" fill="#0000ff" stroke="#0000ff" stroke-width="1"/><circle cx="130.8" cy="217.1" r="4.3" fill="#0000ff" stroke="#0000ff" stroke-width="1"/><circle cx="145.5" cy="217.4" r="4.3" fill="#0000ff" stroke="#0000ff" stroke-width="1"/><circle cx="160.2" cy="217.7" r="4.3" fill="#0000ff" stroke="#0000ff" stroke-width="1"/><circle cx="175.0" cy="218.0" r="4.3" fill="#0000ff" stroke="#0000ff" stroke-width="1"/><circle cx="189.8" cy="218.2" r="4.3" fill="#0000ff" stroke="#0000ff" stroke-width="1"/><circle cx="204.5" cy="218.5" r="4.3" fill="#0000ff" stroke="#0000ff" stroke-width="1"/><circle cx="219.2" cy="218.7" r="4.3" fill="#0000ff" stroke="#0000ff" stroke-width="1"/><circle cx="234.0" cy="218.9" r="4.3" fill="#0000ff" stroke="#0000ff" stroke-width="1"/><circle cx="248.8" cy="219.1" r="4.3" fill="#0000ff" stroke="#0000ff" stroke-width="1"/><circle cx="263.5" cy="219.3" r="4.3" fill="#0000ff" stroke="#0000ff" stroke-width="1"/><circle cx="278.2" cy="219.4" r="4.3" fill="#0000ff" stroke="#0000ff" stroke-width="1"/><circle cx="293.0" cy="219.6" r="4.3" fill="#0000ff" stroke="#0000ff" stroke-width="1"/><circle cx="307.8" cy="219.7" r="4.3" fill="#0000ff" stroke="#0000ff" stroke-width="1"/><circle cx="322.5" cy="219.9" r="4.3" fill="#0000ff" stroke="#0000ff" stroke-width="1"/><circle cx="337.2" cy="220.1" r="4.3" fill="#0000ff" stroke="#0000ff" stroke-width="1"/><circle cx="352.0" cy="220.2" r="4.3" fill="#0000ff" stroke="#0000ff" stroke-width="1"/><circle cx="366.8" cy="220.4" r="4.3" fill="#0000ff" stroke="#0000ff" stroke-width="1"/><circle cx="381.5" cy="220.5" r="4.3" fill="#0000ff" stroke="#0000ff" stroke-width="1"/><circle cx="396.2" cy="220.7" r="4.3" fill="#0000ff" stroke="#0000ff" stroke-width="1"/><circle cx="411.0" cy="220.8" r="4.3" fill="#0000ff" stroke="#0000ff" stroke-width="1"/><circle cx="425.8" cy="221.0" r="4.3" fill="#0000ff" stroke="#0000ff" stroke-width="1"/><circle cx="440.5" cy="221.1" r="4.3" fill="#0000ff" stroke="#0000ff" stroke-width="1"/><circle cx="455.2" cy="221.3" r="4.3" fill="#0000ff" stroke="#0000ff" stroke-width="1"/><circle cx="470.0" cy="221.5" r="4.3" fill="#0000ff" stroke="#0000ff" stroke-width="1"/><circle cx="484.8" cy="221.7" r="4.3" fill="#0000ff" stroke="#0000ff" stroke-width="1"/><circle cx="499.5" cy="221.9" r="4.3" fill="#0000ff" stroke="#0000ff" stroke-width="1"/><circle cx="514.2" cy="222.1" r="4.3" fill="#0000ff" stroke="#0000ff" stroke-width="1"/><circle cx="529.0" cy="222.3" r="4.3" fill="#0000ff" stroke="#0000ff" stroke-width="1"/><circle cx="543.8" cy="222.6" r="4.3" fill="#0000ff" stroke="#0000ff" stroke-width="1"/><circle cx="558.5" cy="222.8" r="4.3" fill="#0000ff" stroke="#0000ff" stroke-width="1"/><circle cx="573.2" cy="223.1" r="4.3" fill="#0000ff" stroke="#0000ff" stroke-width="1"/><circle cx="588.0" cy="223.4" r="4.3" fill="#0000ff" stroke="#0000ff" stroke-width="1"/><circle cx="602.8" cy="223.7" r="4.3" fill="#0000ff" stroke="#0000ff" stroke-width="1"/><circle cx="617.5" cy="224.1" r="4.3" fill="#0000ff" stroke="#0000ff" stroke-width="1"/><circle cx="632.2" cy="224.4" r="4.3" fill="#0000ff" stroke="#0000ff" stroke-width="1"/><circle cx="647.0" cy="224.8" r="4.3" fill="#0000ff" stroke="#0000ff" stroke-width="1"/><circle cx="661.8" cy="225.2" r="4.3" fill="#0000ff" stroke="#0000ff" stroke-width="1"/><circle cx="676.5" cy="225.7" r="4.3" fill="#0000ff" stroke="#0000ff" stroke-width="1"/><circle cx="691.2" cy="226.2" r="4.3" fill="#0000ff" stroke="#0000ff" stroke-width="1"/><circle cx="706.0" cy="226.7" r="4.3" fill="#0000ff" stroke="#0000ff" stroke-width="1"/><circle cx="720.8" cy="227.2" r="4.3" fill="#0000ff" stroke="#0000ff" stroke-width="1"/><circle cx="735.5" cy="227.8" r="4.3" fill="#0000ff" stroke="#0000ff" stroke-width="1"/><circle cx="750.2" cy="228.4" r="4.3" fill="#0000ff" stroke="#0000ff" stroke-width="1"/><circle cx="765.0" cy="229.0" r="4.3" fill="#0000ff" stroke="#0000ff" stroke-width="1"/><circle cx="779.8" cy="229.7" r="4.3" fill="#0000ff" stroke="#0000ff" stroke-width="1"/><circle cx="794.5" cy="230.4" r="4.3" fill="#0000ff" stroke="#0000ff" stroke-width="1"/><circle cx="809.2" cy="231.1" r="4.3" fill="#0000ff" stroke="#0000ff" stroke-width="1"/><circle cx="824.0" cy="231.9" r="4.3" fill="#0000ff" stroke="#0000ff" stroke-width="1"/><circle cx="838.8" cy="232.7" r="4.3" fill="#0000ff" stroke="#0000ff" stroke-width="1"/><circle cx="853.5" cy="233.6" r="4.3" fill="#0000ff" stroke="#0000ff" stroke-width="1"/><circle cx="868.2" cy="234.5" r="4.3" fill="#0000ff" stroke="#0000ff" stroke-width="1"/><circle cx="883.0" cy="235.5" r="4.3" fill="#0000ff" stroke="#0000ff" stroke-width="1"/><circle cx="897.8" cy="236.5" r="4.3" fill="#0000ff" stroke="#0000ff" stroke-width="1"/><circle cx="912.5" cy="237.6" r="4.3" fill="#0000ff" stroke="#0000ff" stroke-width="1"/><circle cx="927.2" cy="238.7" r="4.3" fill="#0000ff" stroke="#0000ff" stroke-width="1"/><circle cx="942.0" cy="239.9" r="4.3" fill="#0000ff" stroke="#0000ff" stroke-width="1"/><circle cx="956.8" cy="241.1" r="4.3" fill="#0000ff" stroke="#0000ff" stroke-width="1"/><circle cx="971.5" cy="242.3" r="4.3" fill="#0000ff" stroke="#0000ff" stroke-width="1"/><circle cx="986.2" cy="243.7" r="4.3" fill="#0000ff" stroke="#0000ff" stroke-width="1"/><circle cx="1001.0" cy="245.1" r="4.3" fill="#0000ff" stroke="#0000ff" stroke-width="1"/><circle cx="1015.8" cy="246.5" r="4.3" fill="#0000ff" stroke="#0000ff" stroke-width="1"/><circle cx="1030.5" cy="248.0" r="4.3" fill="#0000ff" stroke="#0000ff" stroke-width="1"/><circle cx="1045.2" cy="249.6" r="4.3" fill="#0000ff" stroke="#0000ff" stroke-width="1"/><circle cx="1060.0" cy="251.2" r="4.3" fill="#0000ff" stroke="#0000ff" stroke-width="1"/><circle cx="1074.8" cy="252.9" r="4.3" fill="#0000ff" stroke="#0000ff" stroke-width="1"/><circle cx="1089.5" cy="254.7" r="4.3" fill="#0000ff" stroke="#0000ff" stroke-width="1"/><circle cx="1104.2" cy="256.6" r="4.3" fill="#0000ff" stroke="#0000ff" stroke-width="1"/><circle cx="1119.0" cy="258.5" r="4.3" fill="#0000ff" stroke="#0000ff" stroke-width="1"/><circle cx="1133.8" cy="260.5" r="4.3" fill="#0000ff" stroke="#0000ff" stroke-width="1"/><circle cx="1148.5" cy="262.6" r="4.3" fill="#0000ff" stroke="#0000ff" stroke-width="1"/><circle cx="1163.2" cy="264.8" r="4.3" fill="#0000ff" stroke="#0000ff" stroke-width="1"/><circle cx="1178.0" cy="267.0" r="4.3" fill="#0000ff" stroke="#0000ff" stroke-width="1"/><circle cx="1192.8" cy="269.4" r="4.3" fill="#0000ff" stroke="#0000ff" stroke-width="1"/><circle cx="1207.5" cy="271.8" r="4.3" fill="#0000ff" stroke="#0000ff" stroke-width="1"/><circle cx="1222.2" cy="274.3" r="4.3" fill="#0000ff" stroke="#0000ff" stroke-width="1"/><circle cx="1237.0" cy="276.9" r="4.3" fill="#0000ff" stroke="#0000ff" stroke-width="1"/><circle cx="1251.8" cy="279.6" r="4.3" fill="#0000ff" stroke="#0000ff" stroke-width="1"/><circle cx="1266.5" cy="282.5" r="4.3" fill="#0000ff" stroke="#0000ff" stroke-width="1"/><circle cx="1281.2" cy="285.4" r="4.3" fill="#0000ff" stroke="#0000ff" stroke-width="1"/><circle cx="1296.0" cy="288.4" r="4.3" fill="#0000ff" stroke="#0000ff" stroke-width="1"/><circle cx="1310.8" cy="291.5" r="4.3" fill="#0000ff" stroke="#0000ff" stroke-width="1"/><circle cx="1325.5" cy="294.7" r="4.3" fill="#0000ff" stroke="#0000ff" stroke-width="1"/><circle cx="1340.2" cy="298.0" r="4.3" fill="#0000ff" stroke="#0000ff" stroke-width="1"/><circle cx="1355.0" cy="301.5" r="4.3" fill="#0000ff" stroke="#0000ff" stroke-width="1"/><circle cx="1369.8" cy="305.0" r="4.3" fill="#0000ff" stroke="#0000ff" stroke-width="1"/><circle cx="1384.5" cy="308.7" r="4.3" fill="#0000ff" stroke="#0000ff" stroke-width="1"/><circle cx="1399.2" cy="312.5" r="4.3" fill="#0000ff" stroke="#0000ff" stroke-width="1"/><circle cx="1414.0" cy="316.4" r="4.3" fill="#0000ff" stroke="#0000ff" stroke-width="1"/><circle cx="1428.8" cy="320.4" r="4.3" fill="#0000ff" stroke="#0000ff" stroke-width="1"/><circle cx="1443.5" cy="324.5" r="4.3" fill="#0000ff" stroke="#0000ff" stroke-width="1"/><circle cx="1458.2" cy="328.8" r="4.3" fill="#0000ff" stroke="#0000ff" stroke-width="1"/><circle cx="1473.0" cy="333.2" r="4.3" fill="#0000ff" stroke="#0000ff" stroke-width="1"/><circle cx="1487.8" cy="337.7" r="4.3" fill="#0000ff" stroke="#0000ff" stroke-width="1"/><circle cx="1502.5" cy="342.4" r="4.3" fill="#0000ff" stroke="#0000ff" stroke-width="1"/><circle cx="1517.2" cy="347.2" r="4.3" fill="#0000ff" stroke="#0000ff" stroke-width="1"/><circle cx="1532.0" cy="352.1" r="4.3" fill="#0000ff" stroke="#0000ff" stroke-width="1"/><circle cx="1546.8" cy="357.2" r="4.3" fill="#0000ff" stroke="#0000ff" stroke-width="1"/><circle cx="1561.5" cy="362.4" r="4.3" fill="#0000ff" stroke="#0000ff" stroke-width="1"/><circle cx="1576.2" cy="367.8" r="4.3" fill="#0000ff" stroke="#0000ff" stroke-width="1"/></g>
<polyline points="116.0,196.0 130.8,196.3 145.5,196.6 160.2,196.8 175.0,197.0 189.8,197.2 204.5,197.4 219.2,197.6 234.0,197.8 248.8,198.0 263.5,198.1 278.2,198.3 293.0,198.4 307.8,198.5 322.5,198.7 337.2,198.8 352.0,198.9 366.8,199.1 381.5,199.2 396.2,199.3 411.0,199.5 425.8,199.6 440.5,199.8 455.2,200.0 470.0,200.1 484.8,200.3 499.5,200.5 514.2,200.7 529.0,200.9 543.8,201.2 558.5,201.4 573.2,201.7 588.0,202.0 602.8,202.3 617.5,202.7 632.2,203.0 647.0,203.4 661.8,203.9 676.5,204.3 691.2,204.8 706.0,205.3 720.8,205.8 735.5,206.4 750.2,207.0 765.0,207.6 779.8,208.3 794.5,209.0 809.2,209.8 824.0,210.6 838.8,211.4 853.5,212.3 868.2,213.2 883.0,214.2 897.8,215.2 912.5,216.3 927.2,217.4 942.0,218.6 956.8,219.8 971.5,221.1 986.2,222.5 1001.0,223.9 1015.8,225.3 1030.5,226.8 1045.2,228.4 1060.0,230.1 1074.8,231.8 1089.5,233.6 1104.2,235.5 1119.0,237.4 1133.8,239.4 1148.5,241.6 1163.2,243.7 1178.0,246.0 1192.8,248.4 1207.5,250.8 1222.2,253.4 1237.0,256.0 1251.8,258.8 1266.5,261.6 1281.2,264.6 1296.0,267.6 1310.8,270.8 1325.5,274.0 1340.2,277.4 1355.0,280.9 1369.8,284.5 1384.5,288.2 1399.2,292.0 1414.0,296.0 1428.8,300.1 1443.5,304.3 1458.2,308.6 1473.0,313.1 1487.8,317.7 1502.5,322.4 1517.2,327.3 1532.0,332.3 1546.8,337.5 1561.5,342.8 1576.2,348.3" fill="none" stroke="#bf00bf" stroke-width="1.9" stroke-linejoin="round"/>
<g><path d="M116.0 192.2L119.8 199.8L112.2 199.8Z" fill="#bf00bf" stroke="#bf00bf" stroke-width="1"/><path d="M130.8 192.5L134.6 200.1L127.0 200.1Z" fill="#bf00bf" stroke="#bf00bf" stroke-width="1"/><path d="M145.5 192.8L149.3 200.4L141.7 200.4Z" fill="#bf00bf" stroke="#bf00bf" stroke-width="1"/><path d="M160.2 193.0L164.1 200.6L156.4 200.6Z" fill="#bf00bf" stroke="#bf00bf" stroke-width="1"/><path d="M175.0 193.2L178.8 200.8L171.2 200.8Z" fill="#bf00bf" stroke="#bf00bf" stroke-width="1"/><path d="M189.8 193.4L193.6 201.0L185.9 201.0Z" fill="#bf00bf" stroke="#bf00bf" stroke-width="1"/><path d="M204.5 193.6L208.3 201.2L200.7 201.2Z" fill="#bf00bf" stroke="#bf00bf" stroke-width="1"/><path d="M219.2 193.8L223.1 201.4L215.4 201.4Z" fill="#bf00bf" stroke="#bf00bf" stroke-width="1"/><path d="M234.0 194.0L237.8 201.6L230.2 201.6Z" fill="#bf00bf" stroke="#bf00bf" stroke-width="1"/><path d="M248.8 194.2L252.6 201.8L244.9 201.8Z" fill="#bf00bf" stroke="#bf00bf" stroke-width="1"/><path d="M263.5 194.3L267.3 201.9L259.7 201.9Z" fill="#bf00bf" stroke="#bf00bf" stroke-width="1"/><path d="M278.2 194.5L282.1 202.1L274.4 202.1Z" fill="#bf00bf" stroke="#bf00bf" stroke-width="1"/><path d="M293.0 194.6L296.8 202.2L289.2 202.2Z" fill="#bf00bf" stroke="#bf00bf" stroke-width="1"/><path d="M307.8 194.7L311.6 202.3L303.9 202.3Z" fill="#bf00bf" stroke="#bf00bf" stroke-width="1"/><path d="M322.5 194.9L326.3 202.5L318.7 202.5Z" fill="#bf00bf" stroke="#bf00bf" stroke-width="1"/><path d="M337.2 195.0L341.1 202.6L333.4 202.6Z" fill="#bf00bf" stroke="#bf00bf" stroke-width="1"/><path d="M352.0 195.1L355.8 202.7L348.2 202.7Z" fill="#bf00bf" stroke="#bf00bf" stroke-width="1"/><path d="M366.8 195.3L370.6 202.9L362.9 202.9Z" fill="#bf00bf" stroke="#bf00bf" stroke-width="1"/><path d="M381.5 195.4L385.3 203.0L377.7 203.0Z" fill="#bf00bf" stroke="#bf00bf" stroke-width="1"/><path d="M396.2 195.5L400.1 203.1L392.4 203.1Z" fill="#bf00bf" stroke="#bf00bf" stroke-width="1"/><path d="M411.0 195.7L414.8 203.3L407.2 203.3Z" fill="#bf00bf" stroke="#bf00bf" stroke-width="1"/><path d="M425.8 195.8L429.6 203.4L421.9 203.4Z" fill="#bf00bf" stroke="#bf00bf" stroke-width="1"/><path d="M440.5 196.0L444.3 203.6L436.7 203.6Z" fill="#bf00bf" stroke="#bf00bf" stroke-width="1"/><path d="M455.2 196.2L459.1 203.8L451.4 203.8Z" fill="#bf00bf" stroke="#bf00bf" stroke-width="1"/><path d="M470.0 196.3L473.8 203.9L466.2 203.9Z" fill="#bf00bf" stroke="#bf00bf" stroke-width="1"/><path d="M484.8 196.5L488.6 204.1L480.9 204.1Z" fill="#bf00bf" stroke="#bf00bf" stroke-width="1"/><path d="M499.5 196.7L503.3 204.3L495.7 204.3Z" fill="#bf00bf" stroke="#bf00bf" stroke-width="1"/><path d="M514.2 196.9L518.0 204.5L510.4 204.5Z" fill="#bf00bf" stroke="#bf00bf" stroke-width="1"/><path d="M529.0 197.1L532.8 204.7L525.2 204.7Z" fill="#bf00bf" stroke="#bf00bf" stroke-width="1"/><path d="M543.8 197.4L547.5 205.0L540.0 205.0Z" fill="#bf00bf" stroke="#bf00bf" stroke-width="1"/><path d="M558.5 197.6L562.3 205.2L554.7 205.2Z" fill="#bf00bf" stroke="#bf00bf" stroke-width="1"/><path d="M573.2 197.9L577.0 205.5L569.5 205.5Z" fill="#bf00bf" stroke="#bf00bf" stroke-width="1"/><path d="M588.0 198.2L591.8 205.8L584.2 205.8Z" fill="#bf00bf" stroke="#bf00bf" stroke-width="1"/><path d="M602.8 198.5L606.5 206.1L599.0 206.1Z" fill="#bf00bf" stroke="#bf00bf" stroke-width="1"/><path d="M617.5 198.9L621.3 206.5L613.7 206.5Z" fill="#bf00bf" stroke="#bf00bf" stroke-width="1"/><path d="M632.2 199.2L636.0 206.8L628.5 206.8Z" fill="#bf00bf" stroke="#bf00bf" stroke-width="1"/><path d="M647.0 199.6L650.8 207.2L643.2 207.2Z" fill="#bf00bf" stroke="#bf00bf" stroke-width="1"/><path d="M661.8 200.1L665.5 207.7L658.0 207.7Z" fill="#bf00bf" stroke="#bf00bf" stroke-width="1"/><path d="M676.5 200.5L680.3 208.1L672.7 208.1Z" fill="#bf00bf" stroke="#bf00bf" stroke-width="1"/><path d="M691.2 201.0L695.0 208.6L687.5 208.6Z" fill="#bf00bf" stroke="#bf00bf" stroke-width="1"/><path d="M706.0 201.5L709.8 209.1L702.2 209.1Z" fill="#bf00bf" stroke="#bf00bf" stroke-width="1"/><path d="M720.8 202.0L724.5 209.6L717.0 209.6Z" fill="#bf00bf" stroke="#bf00bf" stroke-width="1"/><path d="M735.5 202.6L739.3 210.2L731.7 210.2Z" fill="#bf00bf" stroke="#bf00bf" stroke-width="1"/><path d="M750.2 203.2L754.0 210.8L746.5 210.8Z" fill="#bf00bf" stroke="#bf00bf" stroke-width="1"/><path d="M765.0 203.8L768.8 211.4L761.2 211.4Z" fill="#bf00bf" stroke="#bf00bf" stroke-width="1"/><path d="M779.8 204.5L783.5 212.1L776.0 212.1Z" fill="#bf00bf" stroke="#bf00bf" stroke-width="1"/><path d="M794.5 205.2L798.3 212.8L790.7 212.8Z" fill="#bf00bf" stroke="#bf00bf" stroke-width="1"/><path d="M809.2 206.0L813.0 213.6L805.5 213.6Z" fill="#bf00bf" stroke="#bf00bf" stroke-width="1"/><path d="M824.0 206.8L827.8 214.4L820.2 214.4Z" fill="#bf00bf" stroke="#bf00bf" stroke-width="1"/><path d="M838.8 207.6L842.5 215.2L835.0 215.2Z" fill="#bf00bf" stroke="#bf00bf" stroke-width="1"/><path d="M853.5 208.5L857.3 216.1L849.7 216.1Z" fill="#bf00bf" stroke="#bf00bf" stroke-width="1"/><path d="M868.2 209.4L872.0 217.0L864.5 217.0Z" fill="#bf00bf" stroke="#bf00bf" stroke-width="1"/><path d="M883.0 210.4L886.8 218.0L879.2 218.0Z" fill="#bf00bf" stroke="#bf00bf" stroke-width="1"/><path d="M897.8 211.4L901.5 219.0L894.0 219.0Z" fill="#bf00bf" stroke="#bf00bf" stroke-width="1"/><path d="M912.5 212.5L916.3 220.1L908.7 220.1Z" fill="#bf00bf" stroke="#bf00bf" stroke-width="1"/><path d="M927.2 213.6L931.0 221.2L923.5 221.2Z" fill="#bf00bf" stroke="#bf00bf" stroke-width="1"/><path d="M942.0 214.8L945.8 222.4L938.2 222.4Z" fill="#bf00bf" stroke="#bf00bf" stroke-width="1"/><path d="M956.8 216.0L960.5 223.6L953.0 223.6Z" fill="#bf00bf" stroke="#bf00bf" stroke-width="1"/><path d="M971.5 217.3L975.3 224.9L967.7 224.9Z" fill="#bf00bf" stroke="#bf00bf" stroke-width="1"/><path d="M986.2 218.7L990.0 226.3L982.5 226.3Z" fill="#bf00bf" stroke="#bf00bf" stroke-width="1"/><path d="M1001.0 220.1L1004.8 227.7L997.2 227.7Z" fill="#bf00bf" stroke="#bf00bf" stroke-width="1"/><path d="M1015.8 221.5L1019.5 229.1L1012.0 229.1Z" fill="#bf00bf" stroke="#bf00bf" stroke-width="1"/><path d="M1030.5 223.0L1034.3 230.6L1026.7 230.6Z" fill="#bf00bf" stroke="#bf00bf" stroke-width="1"/><path d="M1045.2 224.6L1049.0 232.2L1041.5 232.2Z" fill="#bf00bf" stroke="#bf00bf" stroke-width="1"/><path d="M1060.0 226.3L1063.8 233.9L1056.2 233.9Z" fill="#bf00bf" stroke="#bf00bf" stroke-width="1"/><path d="M1074.8 228.0L1078.5 235.6L1071.0 235.6Z" fill="#bf00bf" stroke="#bf00bf" stroke-width="1"/><path d="M1089.5 229.8L1093.3 237.4L1085.7 237.4Z" fill="#bf00bf" stroke="#bf00bf" stroke-width="1"/><path d="M1104.2 231.7L1108.0 239.3L1100.5 239.3Z" fill="#bf00bf" stroke="#bf00bf" stroke-width="1"/><path d="M1119.0 233.6L1122.8 241.2L1115.2 241.2Z" fill="#bf00bf" stroke="#bf00bf" stroke-width="1"/><path d="M1133.8 235.6L1137.5 243.2L1130.0 243.2Z" fill="#bf00bf" stroke="#bf00bf" stroke-width="1"/><path d="M1148.5 237.8L1152.3 245.4L1144.7 245.4Z" fill="#bf00bf" stroke="#bf00bf" stroke-width="1"/><path d="M1163.2 239.9L1167.0 247.5L1159.5 247.5Z" fill="#bf00bf" stroke="#bf00bf" stroke-width="1"/><path d="M1178.0 242.2L1181.8 249.8L1174.2 249.8Z" fill="#bf00bf" stroke="#bf00bf" stroke-width="1"/><path d="M1192.8 244.6L1196.5 252.2L1189.0 252.2Z" fill="#bf00bf" stroke="#bf00bf" stroke-width="1"/><path d="M1207.5 247.0L1211.3 254.6L1203.7 254.6Z" fill="#bf00bf" stroke="#bf00bf" stroke-width="1"/><path d="M1222.2 249.6L1226.0 257.2L1218.5 257.2Z" fill="#bf00bf" stroke="#bf00bf" stroke-width="1"/><path d="M1237.0 252.2L1240.8 259.8L1233.2 259.8Z" fill="#bf00bf" stroke="#bf00bf" stroke-width="1"/><path d="M1251.8 255.0L1255.5 262.6L1248.0 262.6Z" fill="#bf00bf" stroke="#bf00bf" stroke-width="1"/><path d="M1266.5 257.8L1270.3 265.4L1262.7 265.4Z" fill="#bf00bf" stroke="#bf00bf" stroke-width="1"/><path d="M1281.2 260.8L1285.0 268.4L1277.5 268.4Z" fill="#bf00bf" stroke="#bf00bf" stroke-width="1"/><path d="M1296.0 263.8L1299.8 271.4L1292.2 271.4Z" fill="#bf00bf" stroke="#bf00bf" stroke-width="1"/><path d="M1310.8 267.0L1314.5 274.6L1307.0 274.6Z" fill="#bf00bf" stroke="#bf00bf" stroke-width="1"/><path d="M1325.5 270.2L1329.3 277.8L1321.7 277.8Z" fill="#bf00bf" stroke="#bf00bf" stroke-width="1"/><path d="M1340.2 273.6L1344.0 281.2L1336.5 281.2Z" fill="#bf00bf" stroke="#bf00bf" stroke-width="1"/><path d="M1355.0 277.1L1358.8 284.7L1351.2 284.7Z" fill="#bf00bf" stroke="#bf00bf" stroke-width="1"/><path d="M1369.8 280.7L1373.5 288.3L1366.0 288.3Z" fill="#bf00bf" stroke="#bf00bf" stroke-width="1"/><path d="M1384.5 284.4L1388.3 292.0L1380.7 292.0Z" fill="#bf00bf" stroke="#bf00bf" stroke-width="1"/><path d="M1399.2 288.2L1403.0 295.8L1395.5 295.8Z" fill="#bf00bf" stroke="#bf00bf" stroke-width="1"/><path d="M1414.0 292.2L1417.8 299.8L1410.2 299.8Z" fill="#bf00bf" stroke="#bf00bf" stroke-width="1"/><path d="M1428.8 296.3L1432.5 303.9L1425.0 303.9Z" fill="#bf00bf" stroke="#bf00bf" stroke-width="1"/><path d="M1443.5 300.5L1447.3 308.1L1439.7 308.1Z" fill="#bf00bf" stroke="#bf00bf" stroke-width="1"/><path d="M1458.2 304.8L1462.0 312.4L1454.5 312.4Z" fill="#bf00bf" stroke="#bf00bf" stroke-width="1"/><path d="M1473.0 309.3L1476.8 316.9L1469.2 316.9Z" fill="#bf00bf" stroke="#bf00bf" stroke-width="1"/><path d="M1487.8 313.9L1491.5 321.5L1484.0 321.5Z" fill="#bf00bf" stroke="#bf00bf" stroke-width="1"/><path d="M1502.5 318.6L1506.3 326.2L1498.7 326.2Z" fill="#bf00bf" stroke="#bf00bf" stroke-width="1"/><path d="M1517.2 323.5L1521.0 331.1L1513.5 331.1Z" fill="#bf00bf" stroke="#bf00bf" stroke-width="1"/><path d="M1532.0 328.5L1535.8 336.1L1528.2 336.1Z" fill="#bf00bf" stroke="#bf00bf" stroke-width="1"/><path d="M1546.8 333.7L1550.5 341.3L1543.0 341.3Z" fill="#bf00bf" stroke="#bf00bf" stroke-width="1"/><path d="M1561.5 339.0L1565.3 346.6L1557.7 346.6Z" fill="#bf00bf" stroke="#bf00bf" stroke-width="1"/><path d="M1576.2 344.5L1580.0 352.1L1572.5 352.1Z" fill="#bf00bf" stroke="#bf00bf" stroke-width="1"/></g>
<polyline points="116.0,177.8 130.8,178.1 145.5,178.4 160.2,178.7 175.0,179.0 189.8,179.2 204.5,179.5 219.2,179.7 234.0,179.9 248.8,180.1 263.5,180.3 278.2,180.5 293.0,180.7 307.8,180.8 322.5,181.0 337.2,181.2 352.0,181.4 366.8,181.5 381.5,181.7 396.2,181.9 411.0,182.1 425.8,182.2 440.5,182.4 455.2,182.6 470.0,182.9 484.8,183.1 499.5,183.3 514.2,183.5 529.0,183.8 543.8,184.1 558.5,184.4 573.2,184.7 588.0,185.0 602.8,185.3 617.5,185.7 632.2,186.1 647.0,186.5 661.8,186.9 676.5,187.4 691.2,187.9 706.0,188.4 720.8,188.9 735.5,189.5 750.2,190.1 765.0,190.8 779.8,191.5 794.5,192.2 809.2,192.9 824.0,193.7 838.8,194.5 853.5,195.4 868.2,196.3 883.0,197.3 897.8,198.2 912.5,199.3 927.2,200.4 942.0,201.5 956.8,202.7 971.5,203.9 986.2,205.2 1001.0,206.6 1015.8,208.0 1030.5,209.4 1045.2,211.0 1060.0,212.5 1074.8,214.2 1089.5,216.0 1104.2,217.8 1119.0,219.7 1133.8,221.6 1148.5,223.7 1163.2,225.8 1178.0,228.1 1192.8,230.4 1207.5,232.8 1222.2,235.3 1237.0,238.0 1251.8,240.7 1266.5,243.5 1281.2,246.5 1296.0,249.5 1310.8,252.7 1325.5,256.0 1340.2,259.4 1355.0,263.0 1369.8,266.6 1384.5,270.4 1399.2,274.3 1414.0,278.4 1428.8,282.6 1443.5,286.9 1458.2,291.4 1473.0,296.1 1487.8,300.8 1502.5,305.8 1517.2,310.9 1532.0,316.1 1546.8,321.5 1561.5,327.1 1576.2,332.8" fill="none" stroke="#000000" stroke-width="1.9" stroke-linejoin="round"/>
<g><path d="M116.0 172.4L121.4 177.8L116.0 183.2L110.6 177.8Z" fill="#000000" stroke="#000000" stroke-width="1"/><path d="M130.8 172.7L136.2 178.1L130.8 183.5L125.3 178.1Z" fill="#000000" stroke="#000000" stroke-width="1"/><path d="M145.5 173.0L150.9 178.4L145.5 183.8L140.1 178.4Z" fill="#000000" stroke="#000000" stroke-width="1"/><path d="M160.2 173.3L165.7 178.7L160.2 184.1L154.8 178.7Z" fill="#000000" stroke="#000000" stroke-width="1"/><path d="M175.0 173.6L180.4 179.0L175.0 184.4L169.6 179.0Z" fill="#000000" stroke="#000000" stroke-width="1"/><path d="M189.8 173.8L195.2 179.2L189.8 184.6L184.3 179.2Z" fill="#000000" stroke="#000000" stroke-width="1"/><path d="M204.5 174.1L209.9 179.5L204.5 184.9L199.1 179.5Z" fill="#000000" stroke="#000000" stroke-width="1"/><path d="M219.2 174.3L224.7 179.7L219.2 185.1L213.8 179.7Z" fill="#000000" stroke="#000000" stroke-width="1"/><path d="M234.0 174.5L239.4 179.9L234.0 185.3L228.6 179.9Z" fill="#000000" stroke="#000000" stroke-width="1"/><path d="M248.8 174.7L254.2 180.1L248.8 185.5L243.3 180.1Z" fill="#000000" stroke="#000000" stroke-width="1"/><path d="M263.5 174.9L268.9 180.3L263.5 185.7L258.1 180.3Z" fill="#000000" stroke="#000000" stroke-width="1"/><path d="M278.2 175.1L283.6 180.5L278.2 185.9L272.9 180.5Z" fill="#000000" stroke="#000000" stroke-width="1"/><path d="M293.0 175.3L298.4 180.7L293.0 186.1L287.6 180.7Z" fill="#000000" stroke="#000000" stroke-width="1"/><path d="M307.8 175.4L313.1 180.8L307.8 186.2L302.4 180.8Z" fill="#000000" stroke="#000000" stroke-width="1"/><path d="M322.5 175.6L327.9 181.0L322.5 186.4L317.1 181.0Z" fill="#000000" stroke="#000000" stroke-width="1"/><path d="M337.2 175.8L342.6 181.2L337.2 186.6L331.9 181.2Z" fill="#000000" stroke="#000000" stroke-width="1"/><path d="M352.0 176.0L357.4 181.4L352.0 186.8L346.6 181.4Z" fill="#000000" stroke="#000000" stroke-width="1"/><path d="M366.8 176.1L372.1 181.5L366.8 186.9L361.4 181.5Z" fill="#000000" stroke="#000000" stroke-width="1"/><path d="M381.5 176.3L386.9 181.7L381.5 187.1L376.1 181.7Z" fill="#000000" stroke="#000000" stroke-width="1"/><path d="M396.2 176.5L401.6 181.9L396.2 187.3L390.9 181.9Z" fill="#000000" stroke="#000000" stroke-width="1"/><path d="M411.0 176.7L416.4 182.1L411.0 187.5L405.6 182.1Z" fill="#000000" stroke="#000000" stroke-width="1"/><path d="M425.8 176.8L431.1 182.2L425.8 187.6L420.4 182.2Z" fill="#000000" stroke="#000000" stroke-width="1"/><path d="M440.5 177.0L445.9 182.4L440.5 187.8L435.1 182.4Z" fill="#000000" stroke="#000000" stroke-width="1"/><path d="M455.2 177.2L460.6 182.6L455.2 188.0L449.9 182.6Z" fill="#000000" stroke="#000000" stroke-width="1"/><path d="M470.0 177.5L475.4 182.9L470.0 188.3L464.6 182.9Z" fill="#000000" stroke="#000000" stroke-width="1"/><path d="M484.8 177.7L490.1 183.1L484.8 188.5L479.4 183.1Z" fill="#000000" stroke="#000000" stroke-width="1"/><path d="M499.5 177.9L504.9 183.3L499.5 188.7L494.1 183.3Z" fill="#000000" stroke="#000000" stroke-width="1"/><path d="M514.2 178.1L519.6 183.5L514.2 188.9L508.9 183.5Z" fill="#000000" stroke="#000000" stroke-width="1"/><path d="M529.0 178.4L534.4 183.8L529.0 189.2L523.6 183.8Z" fill="#000000" stroke="#000000" stroke-width="1"/><path d="M543.8 178.7L549.1 184.1L543.8 189.5L538.4 184.1Z" fill="#000000" stroke="#000000" stroke-width="1"/><path d="M558.5 179.0L563.9 184.4L558.5 189.8L553.1 184.4Z" fill="#000000" stroke="#000000" stroke-width="1"/><path d="M573.2 179.3L578.6 184.7L573.2 190.1L567.9 184.7Z" fill="#000000" stroke="#000000" stroke-width="1"/><path d="M588.0 179.6L593.4 185.0L588.0 190.4L582.6 185.0Z" fill="#000000" stroke="#000000" stroke-width="1"/><path d="M602.8 179.9L608.1 185.3L602.8 190.7L597.4 185.3Z" fill="#000000" stroke="#000000" stroke-width="1"/><path d="M617.5 180.3L622.9 185.7L617.5 191.1L612.1 185.7Z" fill="#000000" stroke="#000000" stroke-width="1"/><path d="M632.2 180.7L637.6 186.1L632.2 191.5L626.9 186.1Z" fill="#000000" stroke="#000000" stroke-width="1"/><path d="M647.0 181.1L652.4 186.5L647.0 191.9L641.6 186.5Z" fill="#000000" stroke="#000000" stroke-width="1"/><path d="M661.8 181.5L667.1 186.9L661.8 192.3L656.4 186.9Z" fill="#000000" stroke="#000000" stroke-width="1"/><path d="M676.5 182.0L681.9 187.4L676.5 192.8L671.1 187.4Z" fill="#000000" stroke="#000000" stroke-width="1"/><path d="M691.2 182.5L696.6 187.9L691.2 193.3L685.9 187.9Z" fill="#000000" stroke="#000000" stroke-width="1"/><path d="M706.0 183.0L711.4 188.4L706.0 193.8L700.6 188.4Z" fill="#000000" stroke="#000000" stroke-width="1"/><path d="M720.8 183.5L726.1 188.9L720.8 194.3L715.4 188.9Z" fill="#000000" stroke="#000000" stroke-width="1"/><path d="M735.5 184.1L740.9 189.5L735.5 194.9L730.1 189.5Z" fill="#000000" stroke="#000000" stroke-width="1"/><path d="M750.2 184.7L755.6 190.1L750.2 195.5L744.9 190.1Z" fill="#000000" stroke="#000000" stroke-width="1"/><path d="M765.0 185.4L770.4 190.8L765.0 196.2L759.6 190.8Z" fill="#000000" stroke="#000000" stroke-width="1"/><path d="M779.8 186.1L785.1 191.5L779.8 196.9L774.4 191.5Z" fill="#000000" stroke="#000000" stroke-width="1"/><path d="M794.5 186.8L799.9 192.2L794.5 197.6L789.1 192.2Z" fill="#000000" stroke="#000000" stroke-width="1"/><path d="M809.2 187.5L814.6 192.9L809.2 198.3L803.9 192.9Z" fill="#000000" stroke="#000000" stroke-width="1"/><path d="M824.0 188.3L829.4 193.7L824.0 199.1L818.6 193.7Z" fill="#000000" stroke="#000000" stroke-width="1"/><path d="M838.8 189.1L844.1 194.5L838.8 199.9L833.4 194.5Z" fill="#000000" stroke="#000000" stroke-width="1"/><path d="M853.5 190.0L858.9 195.4L853.5 200.8L848.1 195.4Z" fill="#000000" stroke="#000000" stroke-width="1"/><path d="M868.2 190.9L873.6 196.3L868.2 201.7L862.9 196.3Z" fill="#000000" stroke="#000000" stroke-width="1"/><path d="M883.0 191.9L888.4 197.3L883.0 202.7L877.6 197.3Z" fill="#000000" stroke="#000000" stroke-width="1"/><path d="M897.8 192.8L903.1 198.2L897.8 203.6L892.4 198.2Z" fill="#000000" stroke="#000000" stroke-width="1"/><path d="M912.5 193.9L917.9 199.3L912.5 204.7L907.1 199.3Z" fill="#000000" stroke="#000000" stroke-width="1"/><path d="M927.2 195.0L932.6 200.4L927.2 205.8L921.9 200.4Z" fill="#000000" stroke="#000000" stroke-width="1"/><path d="M942.0 196.1L947.4 201.5L942.0 206.9L936.6 201.5Z" fill="#000000" stroke="#000000" stroke-width="1"/><path d="M956.8 197.3L962.1 202.7L956.8 208.1L951.4 202.7Z" fill="#000000" stroke="#000000" stroke-width="1"/><path d="M971.5 198.5L976.9 203.9L971.5 209.3L966.1 203.9Z" fill="#000000" stroke="#000000" stroke-width="1"/><path d="M986.2 199.8L991.6 205.2L986.2 210.6L980.9 205.2Z" fill="#000000" stroke="#000000" stroke-width="1"/><path d="M1001.0 201.2L1006.4 206.6L1001.0 212.0L995.6 206.6Z" fill="#000000" stroke="#000000" stroke-width="1"/><path d="M1015.8 202.6L1021.1 208.0L1015.8 213.4L1010.4 208.0Z" fill="#000000" stroke="#000000" stroke-width="1"/><path d="M1030.5 204.0L1035.9 209.4L1030.5 214.8L1025.1 209.4Z" fill="#000000" stroke="#000000" stroke-width="1"/><path d="M1045.2 205.6L1050.7 211.0L1045.2 216.4L1039.8 211.0Z" fill="#000000" stroke="#000000" stroke-width="1"/><path d="M1060.0 207.1L1065.4 212.5L1060.0 217.9L1054.6 212.5Z" fill="#000000" stroke="#000000" stroke-width="1"/><path d="M1074.8 208.8L1080.2 214.2L1074.8 219.6L1069.3 214.2Z" fill="#000000" stroke="#000000" stroke-width="1"/><path d="M1089.5 210.6L1094.9 216.0L1089.5 221.4L1084.1 216.0Z" fill="#000000" stroke="#000000" stroke-width="1"/><path d="M1104.2 212.4L1109.7 217.8L1104.2 223.2L1098.8 217.8Z" fill="#000000" stroke="#000000" stroke-width="1"/><path d="M1119.0 214.3L1124.4 219.7L1119.0 225.1L1113.6 219.7Z" fill="#000000" stroke="#000000" stroke-width="1"/><path d="M1133.8 216.2L1139.2 221.6L1133.8 227.0L1128.3 221.6Z" fill="#000000" stroke="#000000" stroke-width="1"/><path d="M1148.5 218.3L1153.9 223.7L1148.5 229.1L1143.1 223.7Z" fill="#000000" stroke="#000000" stroke-width="1"/><path d="M1163.2 220.4L1168.7 225.8L1163.2 231.2L1157.8 225.8Z" fill="#000000" stroke="#000000" stroke-width="1"/><path d="M1178.0 222.7L1183.4 228.1L1178.0 233.5L1172.6 228.1Z" fill="#000000" stroke="#000000" stroke-width="1"/><path d="M1192.8 225.0L1198.2 230.4L1192.8 235.8L1187.3 230.4Z" fill="#000000" stroke="#000000" stroke-width="1"/><path d="M1207.5 227.4L1212.9 232.8L1207.5 238.2L1202.1 232.8Z" fill="#000000" stroke="#000000" stroke-width="1"/><path d="M1222.2 229.9L1227.7 235.3L1222.2 240.7L1216.8 235.3Z" fill="#000000" stroke="#000000" stroke-width="1"/><path d="M1237.0 232.6L1242.4 238.0L1237.0 243.4L1231.6 238.0Z" fill="#000000" stroke="#000000" stroke-width="1"/><path d="M1251.8 235.3L1257.2 240.7L1251.8 246.1L1246.3 240.7Z" fill="#000000" stroke="#000000" stroke-width="1"/><path d="M1266.5 238.1L1271.9 243.5L1266.5 248.9L1261.1 243.5Z" fill="#000000" stroke="#000000" stroke-width="1"/><path d="M1281.2 241.1L1286.7 246.5L1281.2 251.9L1275.8 246.5Z" fill="#000000" stroke="#000000" stroke-width="1"/><path d="M1296.0 244.1L1301.4 249.5L1296.0 254.9L1290.6 249.5Z" fill="#000000" stroke="#000000" stroke-width="1"/><path d="M1310.8 247.3L1316.2 252.7L1310.8 258.1L1305.3 252.7Z" fill="#000000" stroke="#000000" stroke-width="1"/><path d="M1325.5 250.6L1330.9 256.0L1325.5 261.4L1320.1 256.0Z" fill="#000000" stroke="#000000" stroke-width="1"/><path d="M1340.2 254.0L1345.7 259.4L1340.2 264.8L1334.8 259.4Z" fill="#000000" stroke="#000000" stroke-width="1"/><path d="M1355.0 257.6L1360.4 263.0L1355.0 268.4L1349.6 263.0Z" fill="#000000" stroke="#000000" stroke-width="1"/><path d="M1369.8 261.2L1375.2 266.6L1369.8 272.0L1364.3 266.6Z" fill="#000000" stroke="#000000" stroke-width="1"/><path d="M1384.5 265.0L1389.9 270.4L1384.5 275.8L1379.1 270.4Z" fill="#000000" stroke="#000000" stroke-width="1"/><path d="M1399.2 268.9L1404.7 274.3L1399.2 279.7L1393.8 274.3Z" fill="#000000" stroke="#000000" stroke-width="1"/><path d="M1414.0 273.0L1419.4 278.4L1414.0 283.8L1408.6 278.4Z" fill="#000000" stroke="#000000" stroke-width="1"/><path d="M1428.8 277.2L1434.2 282.6L1428.8 288.0L1423.3 282.6Z" fill="#000000" stroke="#000000" stroke-width="1"/><path d="M1443.5 281.5L1448.9 286.9L1443.5 292.3L1438.1 286.9Z" fill="#000000" stroke="#000000" stroke-width="1"/><path d="M1458.2 286.0L1463.7 291.4L1458.2 296.8L1452.8 291.4Z" fill="#000000" stroke="#000000" stroke-width="1"/><path d="M1473.0 290.7L1478.4 296.1L1473.0 301.5L1467.6 296.1Z" fill="#000000" stroke="#000000" stroke-width="1"/><path d="M1487.8 295.4L1493.2 300.8L1487.8 306.2L1482.3 300.8Z" fill="#000000" stroke="#000000" stroke-width="1"/><path d="M1502.5 300.4L1507.9 305.8L1502.5 311.2L1497.1 305.8Z" fill="#000000" stroke="#000000" stroke-width="1"/><path d="M1517.2 305.5L1522.7 310.9L1517.2 316.3L1511.8 310.9Z" fill="#000000" stroke="#000000" stroke-width="1"/><path d="M1532.0 310.7L1537.4 316.1L1532.0 321.5L1526.6 316.1Z" fill="#000000" stroke="#000000" stroke-width="1"/><path d="M1546.8 316.1L1552.2 321.5L1546.8 326.9L1541.3 321.5Z" fill="#000000" stroke="#000000" stroke-width="1"/><path d="M1561.5 321.7L1566.9 327.1L1561.5 332.5L1556.1 327.1Z" fill="#000000" stroke="#000000" stroke-width="1"/><path d="M1576.2 327.4L1581.7 332.8L1576.2 338.2L1570.8 332.8Z" fill="#000000" stroke="#000000" stroke-width="1"/></g>
</g>
<line x1="116.0" y1="774.2" x2="116.0" y2="779.2" stroke="#555" stroke-width="1.3"/>
<line x1="411.0" y1="774.2" x2="411.0" y2="779.2" stroke="#555" stroke-width="1.3"/>
<line x1="706.0" y1="774.2" x2="706.0" y2="779.2" stroke="#555" stroke-width="1.3"/>
<line x1="1001.0" y1="774.2" x2="1001.0" y2="779.2" stroke="#555" stroke-width="1.3"/>
<line x1="1296.0" y1="774.2" x2="1296.0" y2="779.2" stroke="#555" stroke-width="1.3"/>
<line x1="1591.0" y1="774.2" x2="1591.0" y2="779.2" stroke="#555" stroke-width="1.3"/>
<line x1="111.0" y1="277.4" x2="116.0" y2="277.4" stroke="#999" stroke-width="1.3"/>
<line x1="111.0" y1="525.8" x2="116.0" y2="525.8" stroke="#999" stroke-width="1.3"/>
<line x1="111.0" y1="774.2" x2="116.0" y2="774.2" stroke="#999" stroke-width="1.3"/>
<text x="116.0" y="801.8" text-anchor="middle" font-size="24.2">0.0</text>
<text x="411.0" y="801.8" text-anchor="middle" font-size="24.2">0.2</text>
<text x="706.0" y="801.8" text-anchor="middle" font-size="24.2">0.4</text>
<text x="1001.0" y="801.8" text-anchor="middle" font-size="24.2">0.6</text>
<text x="1296.0" y="801.8" text-anchor="middle" font-size="24.2">0.8</text>
<text x="1591.0" y="801.8" text-anchor="middle" font-size="24.2">1.0</text>
<text x="106.6" y="37.8" text-anchor="end" font-size="24.2">0</text>
<text x="106.6" y="286.2" text-anchor="end" font-size="24.2">−10</text>
<text x="106.6" y="534.6" text-anchor="end" font-size="24.2">−20</text>
<text x="106.6" y="783.0" text-anchor="end" font-size="24.2">−30</text>
<text x="853.5" y="835.3" text-anchor="middle" font-size="27.7">NDVI (-)</text>
<text transform="translate(42.0 401.3) rotate(-90)" text-anchor="middle" font-size="28.3">Backscattering coefficient(dB)</text>
<text transform="translate(146.10 94.50) scale(0.936 1)" font-family="'Liberation Sans', sans-serif" font-size="35.5">(<tspan font-size="33.4">a</tspan><tspan dx="1.2">)</tspan></text>
<rect x="132.9" y="681.5" width="1445.8" height="79.0" rx="4" fill="#fff" stroke="#e2e2e2" stroke-width="1.6"/>
<line x1="142.2" y1="701.2" x2="194.0" y2="701.2" stroke="#ff0000" stroke-width="1.9"/>
<path d="M168.1 705.0L171.9 697.4L164.3 697.4Z" fill="#ff0000" stroke="#ff0000" stroke-width="1"/>
<line x1="142.2" y1="736.9" x2="194.0" y2="736.9" stroke="#ff0000" stroke-opacity="1.00" stroke-width="1.9"/>
<text x="213.1" y="709.8" font-size="24.7">VV (SM = 0.1)</text>
<text x="213.1" y="745.5" font-size="24.7">VH (SM = 0.1)</text>
<line x1="437.2" y1="701.2" x2="489.1" y2="701.2" stroke="#008000" stroke-width="1.9"/>
<rect x="458.9" y="697.0" width="8.4" height="8.4" fill="#008000" stroke="#008000" stroke-width="1"/>
<line x1="437.2" y1="736.9" x2="489.1" y2="736.9" stroke="#008000" stroke-opacity="1.00" stroke-width="1.9"/>
<text x="508.1" y="709.8" font-size="24.7">VV (SM = 0.2)</text>
<text x="508.1" y="745.5" font-size="24.7">VH (SM = 0.2)</text>
<line x1="732.3" y1="701.2" x2="784.1" y2="701.2" stroke="#0000ff" stroke-width="1.9"/>
<circle cx="758.2" cy="701.2" r="4.3" fill="#0000ff" stroke="#0000ff" stroke-width="1"/>
<line x1="732.3" y1="736.9" x2="784.1" y2="736.9" stroke="#0000ff" stroke-opacity="1.00" stroke-width="1.9"/>
<text x="803.2" y="709.8" font-size="24.7">VV (SM = 0.3)</text>
<text x="803.2" y="745.5" font-size="24.7">VH (SM = 0.3)</text>
<line x1="1027.4" y1="701.2" x2="1079.2" y2="701.2" stroke="#bf00bf" stroke-width="1.9"/>
<path d="M1053.3 697.4L1057.1 705.0L1049.5 705.0Z" fill="#bf00bf" stroke="#bf00bf" stroke-width="1"/>
<line x1="1027.4" y1="736.9" x2="1079.2" y2="736.9" stroke="#bf00bf" stroke-opacity="1.00" stroke-width="1.9"/>
<text x="1098.3" y="709.8" font-size="24.7">VV (SM = 0.4)</text>
<text x="1098.3" y="745.5" font-size="24.7">VH (SM = 0.4)</text>
<line x1="1322.4" y1="701.2" x2="1374.2" y2="701.2" stroke="#000000" stroke-width="1.9"/>
<path d="M1348.3 695.8L1353.7 701.2L1348.3 706.6L1342.9 701.2Z" fill="#000000" stroke="#000000" stroke-width="1"/>
<line x1="1322.4" y1="736.9" x2="1374.2" y2="736.9" stroke="#000000" stroke-opacity="1.00" stroke-width="1.9"/>
<text x="1393.3" y="709.8" font-size="24.7">VV (SM = 0.5)</text>
<text x="1393.3" y="745.5" font-size="24.7">VH (SM = 0.5)</text>
<path d="M149.2 25.5L157.6 25.5L158.6 31.5L150.4 31.5Z" fill="#fff"/>
<rect x="141.4" y="168" width="8.9" height="10.6" fill="#fff"/>
<clipPath id="cb"><rect x="122.0" y="844.0" width="1469.5" height="755.0"/></clipPath>
<line x1="117.0" y1="854.0" x2="1591.5" y2="854.0" stroke="#d4d4d4" stroke-width="2.0"/>
<line x1="1591.5" y1="854.0" x2="1591.5" y2="1599.0" stroke="#a8a8a8" stroke-width="1.6"/>
<line x1="122.0" y1="1599.0" x2="1591.5" y2="1599.0" stroke="#555555" stroke-width="2.0"/>
<line x1="122.0" y1="854.0" x2="122.0" y2="1599.0" stroke="#000000" stroke-width="2.2"/>
<g clip-path="url(#cb)">
<polyline points="122.0,1312.6 140.4,1315.0 158.7,1317.5 177.1,1320.0 195.5,1322.5 213.9,1324.9 232.2,1327.4 250.6,1329.9 269.0,1332.4 287.3,1334.9 305.7,1337.3 324.1,1339.8 342.4,1342.3 360.8,1344.7 379.2,1347.2 397.6,1349.6 415.9,1352.1 434.3,1354.5 452.7,1356.9 471.0,1359.3 489.4,1361.7 507.8,1364.0 526.1,1366.4 544.5,1368.7 562.9,1371.0 581.2,1373.3 599.6,1375.5 618.0,1377.8 636.4,1380.0 654.7,1382.2 673.1,1384.3 691.5,1386.4 709.8,1388.5 728.2,1390.6 746.6,1392.6 765.0,1394.6 783.3,1396.6 801.7,1398.5 820.1,1400.4 838.4,1402.2 856.8,1404.0 875.2,1405.8 893.5,1407.5 911.9,1409.1 930.3,1410.8 948.7,1412.3 967.0,1413.9 985.4,1415.3 1003.8,1416.8 1022.1,1418.1 1040.5,1419.5 1058.9,1420.7 1077.2,1421.9 1095.6,1423.1 1114.0,1424.2 1132.3,1425.3 1150.7,1426.3 1169.1,1427.3 1187.5,1428.2 1205.8,1429.0 1224.2,1429.9 1242.6,1430.6 1260.9,1431.3 1279.3,1432.0 1297.7,1432.6 1316.0,1433.1 1334.4,1433.6 1352.8,1434.0 1371.2,1434.4 1389.5,1434.7 1407.9,1435.0 1426.3,1435.3 1444.6,1435.4 1463.0,1435.6 1481.4,1435.6 1499.8,1435.6 1518.1,1435.6 1536.5,1435.5 1554.9,1435.4 1573.2,1435.2" fill="none" stroke="#ff0000" stroke-width="2.0" stroke-linejoin="round"/>
<polyline points="122.0,1265.0 140.4,1267.4 158.7,1269.8 177.1,1272.2 195.5,1274.6 213.9,1276.9 232.2,1279.3 250.6,1281.7 269.0,1284.1 287.3,1286.4 305.7,1288.8 324.1,1291.1 342.4,1293.4 360.8,1295.8 379.2,1298.1 397.6,1300.4 415.9,1302.7 434.3,1304.9 452.7,1307.2 471.0,1309.5 489.4,1311.7 507.8,1313.9 526.1,1316.1 544.5,1318.3 562.9,1320.5 581.2,1322.7 599.6,1324.8 618.0,1326.9 636.4,1329.0 654.7,1331.1 673.1,1333.2 691.5,1335.2 709.8,1337.3 728.2,1339.3 746.6,1341.3 765.0,1343.2 783.3,1345.2 801.7,1347.1 820.1,1349.0 838.4,1350.9 856.8,1352.7 875.2,1354.5 893.5,1356.3 911.9,1358.1 930.3,1359.8 948.7,1361.5 967.0,1363.2 985.4,1364.9 1003.8,1366.5 1022.1,1368.1 1040.5,1369.6 1058.9,1371.2 1077.2,1372.7 1095.6,1374.1 1114.0,1375.6 1132.3,1377.0 1150.7,1378.3 1169.1,1379.6 1187.5,1380.9 1205.8,1382.2 1224.2,1383.4 1242.6,1384.6 1260.9,1385.8 1279.3,1386.9 1297.7,1387.9 1316.0,1389.0 1334.4,1390.0 1352.8,1390.9 1371.2,1391.8 1389.5,1392.7 1407.9,1393.5 1426.3,1394.3 1444.6,1395.0 1463.0,1395.7 1481.4,1396.4 1499.8,1397.0 1518.1,1397.6 1536.5,1398.1 1554.9,1398.5 1573.2,1399.0" fill="none" stroke="#008000" stroke-width="2.0" stroke-linejoin="round"/>
<polyline points="122.0,1235.5 140.4,1237.9 158.7,1240.3 177.1,1242.7 195.5,1245.0 213.9,1247.4 232.2,1249.8 250.6,1252.1 269.0,1254.4 287.3,1256.8 305.7,1259.1 324.1,1261.4 342.4,1263.7 360.8,1266.0 379.2,1268.3 397.6,1270.5 415.9,1272.8 434.3,1275.0 452.7,1277.3 471.0,1279.5 489.4,1281.7 507.8,1283.9 526.1,1286.0 544.5,1288.2 562.9,1290.4 581.2,1292.5 599.6,1294.6 618.0,1296.7 636.4,1298.8 654.7,1300.9 673.1,1302.9 691.5,1305.0 709.8,1307.0 728.2,1309.0 746.6,1311.0 765.0,1312.9 783.3,1314.9 801.7,1316.8 820.1,1318.7 838.4,1320.6 856.8,1322.5 875.2,1324.3 893.5,1326.1 911.9,1328.0 930.3,1329.7 948.7,1331.5 967.0,1333.2 985.4,1335.0 1003.8,1336.7 1022.1,1338.3 1040.5,1340.0 1058.9,1341.6 1077.2,1343.2 1095.6,1344.8 1114.0,1346.3 1132.3,1347.8 1150.7,1349.3 1169.1,1350.8 1187.5,1352.2 1205.8,1353.7 1224.2,1355.1 1242.6,1356.4 1260.9,1357.8 1279.3,1359.1 1297.7,1360.3 1316.0,1361.6 1334.4,1362.8 1352.8,1364.0 1371.2,1365.1 1389.5,1366.3 1407.9,1367.4 1426.3,1368.4 1444.6,1369.5 1463.0,1370.5 1481.4,1371.4 1499.8,1372.4 1518.1,1373.3 1536.5,1374.1 1554.9,1375.0 1573.2,1375.8" fill="none" stroke="#0000ff" stroke-width="2.0" stroke-linejoin="round"/>
<polyline points="122.0,1215.5 140.4,1217.7 158.7,1220.0 177.1,1222.3 195.5,1224.5 213.9,1226.8 232.2,1229.1 250.6,1231.3 269.0,1233.6 287.3,1235.8 305.7,1238.0 324.1,1240.3 342.4,1242.5 360.8,1244.7 379.2,1246.9 397.6,1249.1 415.9,1251.3 434.3,1253.5 452.7,1255.7 471.0,1257.9 489.4,1260.0 507.8,1262.2 526.1,1264.3 544.5,1266.4 562.9,1268.6 581.2,1270.7 599.6,1272.8 618.0,1274.9 636.4,1276.9 654.7,1279.0 673.1,1281.0 691.5,1283.1 709.8,1285.1 728.2,1287.1 746.6,1289.1 765.0,1291.1 783.3,1293.1 801.7,1295.0 820.1,1296.9 838.4,1298.9 856.8,1300.8 875.2,1302.7 893.5,1304.5 911.9,1306.4 930.3,1308.2 948.7,1310.0 967.0,1311.8 985.4,1313.6 1003.8,1315.4 1022.1,1317.1 1040.5,1318.8 1058.9,1320.5 1077.2,1322.2 1095.6,1323.9 1114.0,1325.5 1132.3,1327.1 1150.7,1328.7 1169.1,1330.3 1187.5,1331.8 1205.8,1333.3 1224.2,1334.8 1242.6,1336.3 1260.9,1337.8 1279.3,1339.2 1297.7,1340.6 1316.0,1342.0 1334.4,1343.3 1352.8,1344.6 1371.2,1345.9 1389.5,1347.2 1407.9,1348.4 1426.3,1349.7 1444.6,1350.8 1463.0,1352.0 1481.4,1353.1 1499.8,1354.2 1518.1,1355.3 1536.5,1356.3 1554.9,1357.4 1573.2,1358.3" fill="none" stroke="#bf00bf" stroke-width="2.0" stroke-linejoin="round"/>
<polyline points="122.0,1199.4 140.4,1201.6 158.7,1203.8 177.1,1206.1 195.5,1208.3 213.9,1210.5 232.2,1212.7 250.6,1215.0 269.0,1217.2 287.3,1219.4 305.7,1221.6 324.1,1223.8 342.4,1226.0 360.8,1228.2 379.2,1230.4 397.6,1232.5 415.9,1234.7 434.3,1236.9 452.7,1239.1 471.0,1241.2 489.4,1243.4 507.8,1245.5 526.1,1247.6 544.5,1249.7 562.9,1251.9 581.2,1254.0 599.6,1256.1 618.0,1258.1 636.4,1260.2 654.7,1262.3 673.1,1264.3 691.5,1266.4 709.8,1268.4 728.2,1270.4 746.6,1272.4 765.0,1274.4 783.3,1276.4 801.7,1278.4 820.1,1280.3 838.4,1282.3 856.8,1284.2 875.2,1286.1 893.5,1288.0 911.9,1289.9 930.3,1291.7 948.7,1293.6 967.0,1295.4 985.4,1297.2 1003.8,1299.0 1022.1,1300.8 1040.5,1302.5 1058.9,1304.3 1077.2,1306.0 1095.6,1307.7 1114.0,1309.4 1132.3,1311.1 1150.7,1312.7 1169.1,1314.3 1187.5,1315.9 1205.8,1317.5 1224.2,1319.1 1242.6,1320.6 1260.9,1322.1 1279.3,1323.6 1297.7,1325.1 1316.0,1326.6 1334.4,1328.0 1352.8,1329.4 1371.2,1330.8 1389.5,1332.1 1407.9,1333.4 1426.3,1334.7 1444.6,1336.0 1463.0,1337.3 1481.4,1338.5 1499.8,1339.7 1518.1,1340.9 1536.5,1342.0 1554.9,1343.1 1573.2,1344.2" fill="none" stroke="#000000" stroke-width="2.0" stroke-linejoin="round"/>
<polyline points="122.0,1054.3 140.4,1056.4 158.7,1058.5 177.1,1060.7 195.5,1062.8 213.9,1064.9 232.2,1067.0 250.6,1069.1 269.0,1071.2 287.3,1073.3 305.7,1075.4 324.1,1077.5 342.4,1079.6 360.8,1081.7 379.2,1083.8 397.6,1085.8 415.9,1087.9 434.3,1090.0 452.7,1092.0 471.0,1094.1 489.4,1096.1 507.8,1098.2 526.1,1100.2 544.5,1102.3 562.9,1104.3 581.2,1106.3 599.6,1108.3 618.0,1110.4 636.4,1112.4 654.7,1114.4 673.1,1116.4 691.5,1118.4 709.8,1120.4 728.2,1122.4 746.6,1124.4 765.0,1126.4 783.3,1128.4 801.7,1130.3 820.1,1132.3 838.4,1134.3 856.8,1136.2 875.2,1138.2 893.5,1140.2 911.9,1142.1 930.3,1144.1 948.7,1146.0 967.0,1148.0 985.4,1149.9 1003.8,1151.8 1022.1,1153.8 1040.5,1155.7 1058.9,1157.6 1077.2,1159.5 1095.6,1161.4 1114.0,1163.4 1132.3,1165.3 1150.7,1167.2 1169.1,1169.1 1187.5,1171.0 1205.8,1172.9 1224.2,1174.8 1242.6,1176.6 1260.9,1178.5 1279.3,1180.4 1297.7,1182.3 1316.0,1184.2 1334.4,1186.0 1352.8,1187.9 1371.2,1189.8 1389.5,1191.6 1407.9,1193.5 1426.3,1195.3 1444.6,1197.2 1463.0,1199.0 1481.4,1200.9 1499.8,1202.7 1518.1,1204.5 1536.5,1206.4 1554.9,1208.2 1573.2,1210.0" fill="none" stroke="#ff0000" stroke-width="1.9" stroke-linejoin="round"/>
<g><path d="M122.0 1058.1L125.8 1050.5L118.2 1050.5Z" fill="#ff0000" stroke="#ff0000" stroke-width="1"/><path d="M140.4 1060.2L144.2 1052.6L136.6 1052.6Z" fill="#ff0000" stroke="#ff0000" stroke-width="1"/><path d="M158.7 1062.3L162.5 1054.7L154.9 1054.7Z" fill="#ff0000" stroke="#ff0000" stroke-width="1"/><path d="M177.1 1064.5L180.9 1056.9L173.3 1056.9Z" fill="#ff0000" stroke="#ff0000" stroke-width="1"/><path d="M195.5 1066.6L199.3 1059.0L191.7 1059.0Z" fill="#ff0000" stroke="#ff0000" stroke-width="1"/><path d="M213.9 1068.7L217.7 1061.1L210.1 1061.1Z" fill="#ff0000" stroke="#ff0000" stroke-width="1"/><path d="M232.2 1070.8L236.0 1063.2L228.4 1063.2Z" fill="#ff0000" stroke="#ff0000" stroke-width="1"/><path d="M250.6 1072.9L254.4 1065.3L246.8 1065.3Z" fill="#ff0000" stroke="#ff0000" stroke-width="1"/><path d="M269.0 1075.0L272.8 1067.4L265.2 1067.4Z" fill="#ff0000" stroke="#ff0000" stroke-width="1"/><path d="M287.3 1077.1L291.1 1069.5L283.5 1069.5Z" fill="#ff0000" stroke="#ff0000" stroke-width="1"/><path d="M305.7 1079.2L309.5 1071.6L301.9 1071.6Z" fill="#ff0000" stroke="#ff0000" stroke-width="1"/><path d="M324.1 1081.3L327.9 1073.7L320.3 1073.7Z" fill="#ff0000" stroke="#ff0000" stroke-width="1"/><path d="M342.4 1083.4L346.2 1075.8L338.6 1075.8Z" fill="#ff0000" stroke="#ff0000" stroke-width="1"/><path d="M360.8 1085.5L364.6 1077.9L357.0 1077.9Z" fill="#ff0000" stroke="#ff0000" stroke-width="1"/><path d="M379.2 1087.6L383.0 1080.0L375.4 1080.0Z" fill="#ff0000" stroke="#ff0000" stroke-width="1"/><path d="M397.6 1089.6L401.4 1082.0L393.8 1082.0Z" fill="#ff0000" stroke="#ff0000" stroke-width="1"/><path d="M415.9 1091.7L419.7 1084.1L412.1 1084.1Z" fill="#ff0000" stroke="#ff0000" stroke-width="1"/><path d="M434.3 1093.8L438.1 1086.2L430.5 1086.2Z" fill="#ff0000" stroke="#ff0000" stroke-width="1"/><path d="M452.7 1095.8L456.5 1088.2L448.9 1088.2Z" fill="#ff0000" stroke="#ff0000" stroke-width="1"/><path d="M471.0 1097.9L474.8 1090.3L467.2 1090.3Z" fill="#ff0000" stroke="#ff0000" stroke-width="1"/><path d="M489.4 1099.9L493.2 1092.3L485.6 1092.3Z" fill="#ff0000" stroke="#ff0000" stroke-width="1"/><path d="M507.8 1102.0L511.6 1094.4L504.0 1094.4Z" fill="#ff0000" stroke="#ff0000" stroke-width="1"/><path d="M526.1 1104.0L529.9 1096.4L522.3 1096.4Z" fill="#ff0000" stroke="#ff0000" stroke-width="1"/><path d="M544.5 1106.1L548.3 1098.5L540.7 1098.5Z" fill="#ff0000" stroke="#ff0000" stroke-width="1"/><path d="M562.9 1108.1L566.7 1100.5L559.1 1100.5Z" fill="#ff0000" stroke="#ff0000" stroke-width="1"/><path d="M581.2 1110.1L585.0 1102.5L577.5 1102.5Z" fill="#ff0000" stroke="#ff0000" stroke-width="1"/><path d="M599.6 1112.1L603.4 1104.5L595.8 1104.5Z" fill="#ff0000" stroke="#ff0000" stroke-width="1"/><path d="M618.0 1114.2L621.8 1106.6L614.2 1106.6Z" fill="#ff0000" stroke="#ff0000" stroke-width="1"/><path d="M636.4 1116.2L640.2 1108.6L632.6 1108.6Z" fill="#ff0000" stroke="#ff0000" stroke-width="1"/><path d="M654.7 1118.2L658.5 1110.6L650.9 1110.6Z" fill="#ff0000" stroke="#ff0000" stroke-width="1"/><path d="M673.1 1120.2L676.9 1112.6L669.3 1112.6Z" fill="#ff0000" stroke="#ff0000" stroke-width="1"/><path d="M691.5 1122.2L695.3 1114.6L687.7 1114.6Z" fill="#ff0000" stroke="#ff0000" stroke-width="1"/><path d="M709.8 1124.2L713.6 1116.6L706.0 1116.6Z" fill="#ff0000" stroke="#ff0000" stroke-width="1"/><path d="M728.2 1126.2L732.0 1118.6L724.4 1118.6Z" fill="#ff0000" stroke="#ff0000" stroke-width="1"/><path d="M746.6 1128.2L750.4 1120.6L742.8 1120.6Z" fill="#ff0000" stroke="#ff0000" stroke-width="1"/><path d="M765.0 1130.2L768.8 1122.6L761.2 1122.6Z" fill="#ff0000" stroke="#ff0000" stroke-width="1"/><path d="M783.3 1132.2L787.1 1124.6L779.5 1124.6Z" fill="#ff0000" stroke="#ff0000" stroke-width="1"/><path d="M801.7 1134.1L805.5 1126.5L797.9 1126.5Z" fill="#ff0000" stroke="#ff0000" stroke-width="1"/><path d="M820.1 1136.1L823.9 1128.5L816.3 1128.5Z" fill="#ff0000" stroke="#ff0000" stroke-width="1"/><path d="M838.4 1138.1L842.2 1130.5L834.6 1130.5Z" fill="#ff0000" stroke="#ff0000" stroke-width="1"/><path d="M856.8 1140.0L860.6 1132.4L853.0 1132.4Z" fill="#ff0000" stroke="#ff0000" stroke-width="1"/><path d="M875.2 1142.0L879.0 1134.4L871.4 1134.4Z" fill="#ff0000" stroke="#ff0000" stroke-width="1"/><path d="M893.5 1144.0L897.3 1136.4L889.7 1136.4Z" fill="#ff0000" stroke="#ff0000" stroke-width="1"/><path d="M911.9 1145.9L915.7 1138.3L908.1 1138.3Z" fill="#ff0000" stroke="#ff0000" stroke-width="1"/><path d="M930.3 1147.9L934.1 1140.3L926.5 1140.3Z" fill="#ff0000" stroke="#ff0000" stroke-width="1"/><path d="M948.7 1149.8L952.5 1142.2L944.9 1142.2Z" fill="#ff0000" stroke="#ff0000" stroke-width="1"/><path d="M967.0 1151.8L970.8 1144.2L963.2 1144.2Z" fill="#ff0000" stroke="#ff0000" stroke-width="1"/><path d="M985.4 1153.7L989.2 1146.1L981.6 1146.1Z" fill="#ff0000" stroke="#ff0000" stroke-width="1"/><path d="M1003.8 1155.6L1007.6 1148.0L1000.0 1148.0Z" fill="#ff0000" stroke="#ff0000" stroke-width="1"/><path d="M1022.1 1157.6L1025.9 1150.0L1018.3 1150.0Z" fill="#ff0000" stroke="#ff0000" stroke-width="1"/><path d="M1040.5 1159.5L1044.3 1151.9L1036.7 1151.9Z" fill="#ff0000" stroke="#ff0000" stroke-width="1"/><path d="M1058.9 1161.4L1062.7 1153.8L1055.1 1153.8Z" fill="#ff0000" stroke="#ff0000" stroke-width="1"/><path d="M1077.2 1163.3L1081.0 1155.7L1073.4 1155.7Z" fill="#ff0000" stroke="#ff0000" stroke-width="1"/><path d="M1095.6 1165.2L1099.4 1157.6L1091.8 1157.6Z" fill="#ff0000" stroke="#ff0000" stroke-width="1"/><path d="M1114.0 1167.2L1117.8 1159.6L1110.2 1159.6Z" fill="#ff0000" stroke="#ff0000" stroke-width="1"/><path d="M1132.3 1169.1L1136.1 1161.5L1128.5 1161.5Z" fill="#ff0000" stroke="#ff0000" stroke-width="1"/><path d="M1150.7 1171.0L1154.5 1163.4L1146.9 1163.4Z" fill="#ff0000" stroke="#ff0000" stroke-width="1"/><path d="M1169.1 1172.9L1172.9 1165.3L1165.3 1165.3Z" fill="#ff0000" stroke="#ff0000" stroke-width="1"/><path d="M1187.5 1174.8L1191.3 1167.2L1183.7 1167.2Z" fill="#ff0000" stroke="#ff0000" stroke-width="1"/><path d="M1205.8 1176.7L1209.6 1169.1L1202.0 1169.1Z" fill="#ff0000" stroke="#ff0000" stroke-width="1"/><path d="M1224.2 1178.6L1228.0 1171.0L1220.4 1171.0Z" fill="#ff0000" stroke="#ff0000" stroke-width="1"/><path d="M1242.6 1180.4L1246.4 1172.8L1238.8 1172.8Z" fill="#ff0000" stroke="#ff0000" stroke-width="1"/><path d="M1260.9 1182.3L1264.7 1174.7L1257.1 1174.7Z" fill="#ff0000" stroke="#ff0000" stroke-width="1"/><path d="M1279.3 1184.2L1283.1 1176.6L1275.5 1176.6Z" fill="#ff0000" stroke="#ff0000" stroke-width="1"/><path d="M1297.7 1186.1L1301.5 1178.5L1293.9 1178.5Z" fill="#ff0000" stroke="#ff0000" stroke-width="1"/><path d="M1316.0 1188.0L1319.8 1180.4L1312.2 1180.4Z" fill="#ff0000" stroke="#ff0000" stroke-width="1"/><path d="M1334.4 1189.8L1338.2 1182.2L1330.6 1182.2Z" fill="#ff0000" stroke="#ff0000" stroke-width="1"/><path d="M1352.8 1191.7L1356.6 1184.1L1349.0 1184.1Z" fill="#ff0000" stroke="#ff0000" stroke-width="1"/><path d="M1371.2 1193.6L1375.0 1186.0L1367.4 1186.0Z" fill="#ff0000" stroke="#ff0000" stroke-width="1"/><path d="M1389.5 1195.4L1393.3 1187.8L1385.7 1187.8Z" fill="#ff0000" stroke="#ff0000" stroke-width="1"/><path d="M1407.9 1197.3L1411.7 1189.7L1404.1 1189.7Z" fill="#ff0000" stroke="#ff0000" stroke-width="1"/><path d="M1426.3 1199.1L1430.1 1191.5L1422.5 1191.5Z" fill="#ff0000" stroke="#ff0000" stroke-width="1"/><path d="M1444.6 1201.0L1448.4 1193.4L1440.8 1193.4Z" fill="#ff0000" stroke="#ff0000" stroke-width="1"/><path d="M1463.0 1202.8L1466.8 1195.2L1459.2 1195.2Z" fill="#ff0000" stroke="#ff0000" stroke-width="1"/><path d="M1481.4 1204.7L1485.2 1197.1L1477.6 1197.1Z" fill="#ff0000" stroke="#ff0000" stroke-width="1"/><path d="M1499.8 1206.5L1503.5 1198.9L1496.0 1198.9Z" fill="#ff0000" stroke="#ff0000" stroke-width="1"/><path d="M1518.1 1208.3L1521.9 1200.7L1514.3 1200.7Z" fill="#ff0000" stroke="#ff0000" stroke-width="1"/><path d="M1536.5 1210.2L1540.3 1202.6L1532.7 1202.6Z" fill="#ff0000" stroke="#ff0000" stroke-width="1"/><path d="M1554.9 1212.0L1558.7 1204.4L1551.1 1204.4Z" fill="#ff0000" stroke="#ff0000" stroke-width="1"/><path d="M1573.2 1213.8L1577.0 1206.2L1569.4 1206.2Z" fill="#ff0000" stroke="#ff0000" stroke-width="1"/></g>
<polyline points="122.0,1004.4 140.4,1006.4 158.7,1008.4 177.1,1010.4 195.5,1012.4 213.9,1014.4 232.2,1016.4 250.6,1018.5 269.0,1020.5 287.3,1022.5 305.7,1024.5 324.1,1026.5 342.4,1028.6 360.8,1030.6 379.2,1032.6 397.6,1034.6 415.9,1036.6 434.3,1038.6 452.7,1040.7 471.0,1042.7 489.4,1044.7 507.8,1046.7 526.1,1048.7 544.5,1050.8 562.9,1052.8 581.2,1054.8 599.6,1056.8 618.0,1058.8 636.4,1060.8 654.7,1062.9 673.1,1064.9 691.5,1066.9 709.8,1068.9 728.2,1070.9 746.6,1072.9 765.0,1074.9 783.3,1076.9 801.7,1078.9 820.1,1080.9 838.4,1082.9 856.8,1084.9 875.2,1086.9 893.5,1088.9 911.9,1090.9 930.3,1092.9 948.7,1094.9 967.0,1096.9 985.4,1098.8 1003.8,1100.8 1022.1,1102.8 1040.5,1104.8 1058.9,1106.7 1077.2,1108.7 1095.6,1110.7 1114.0,1112.6 1132.3,1114.6 1150.7,1116.5 1169.1,1118.5 1187.5,1120.4 1205.8,1122.4 1224.2,1124.3 1242.6,1126.3 1260.9,1128.2 1279.3,1130.1 1297.7,1132.1 1316.0,1134.0 1334.4,1135.9 1352.8,1137.8 1371.2,1139.7 1389.5,1141.6 1407.9,1143.5 1426.3,1145.4 1444.6,1147.3 1463.0,1149.2 1481.4,1151.1 1499.8,1153.0 1518.1,1154.8 1536.5,1156.7 1554.9,1158.6 1573.2,1160.4" fill="none" stroke="#008000" stroke-width="1.9" stroke-linejoin="round"/>
<g><rect x="117.8" y="1000.2" width="8.4" height="8.4" fill="#008000" stroke="#008000" stroke-width="1"/><rect x="136.2" y="1002.2" width="8.4" height="8.4" fill="#008000" stroke="#008000" stroke-width="1"/><rect x="154.5" y="1004.2" width="8.4" height="8.4" fill="#008000" stroke="#008000" stroke-width="1"/><rect x="172.9" y="1006.2" width="8.4" height="8.4" fill="#008000" stroke="#008000" stroke-width="1"/><rect x="191.3" y="1008.2" width="8.4" height="8.4" fill="#008000" stroke="#008000" stroke-width="1"/><rect x="209.7" y="1010.2" width="8.4" height="8.4" fill="#008000" stroke="#008000" stroke-width="1"/><rect x="228.0" y="1012.2" width="8.4" height="8.4" fill="#008000" stroke="#008000" stroke-width="1"/><rect x="246.4" y="1014.3" width="8.4" height="8.4" fill="#008000" stroke="#008000" stroke-width="1"/><rect x="264.8" y="1016.3" width="8.4" height="8.4" fill="#008000" stroke="#008000" stroke-width="1"/><rect x="283.1" y="1018.3" width="8.4" height="8.4" fill="#008000" stroke="#008000" stroke-width="1"/><rect x="301.5" y="1020.3" width="8.4" height="8.4" fill="#008000" stroke="#008000" stroke-width="1"/><rect x="319.9" y="1022.3" width="8.4" height="8.4" fill="#008000" stroke="#008000" stroke-width="1"/><rect x="338.2" y="1024.4" width="8.4" height="8.4" fill="#008000" stroke="#008000" stroke-width="1"/><rect x="356.6" y="1026.4" width="8.4" height="8.4" fill="#008000" stroke="#008000" stroke-width="1"/><rect x="375.0" y="1028.4" width="8.4" height="8.4" fill="#008000" stroke="#008000" stroke-width="1"/><rect x="393.4" y="1030.4" width="8.4" height="8.4" fill="#008000" stroke="#008000" stroke-width="1"/><rect x="411.7" y="1032.4" width="8.4" height="8.4" fill="#008000" stroke="#008000" stroke-width="1"/><rect x="430.1" y="1034.4" width="8.4" height="8.4" fill="#008000" stroke="#008000" stroke-width="1"/><rect x="448.5" y="1036.5" width="8.4" height="8.4" fill="#008000" stroke="#008000" stroke-width="1"/><rect x="466.8" y="1038.5" width="8.4" height="8.4" fill="#008000" stroke="#008000" stroke-width="1"/><rect x="485.2" y="1040.5" width="8.4" height="8.4" fill="#008000" stroke="#008000" stroke-width="1"/><rect x="503.6" y="1042.5" width="8.4" height="8.4" fill="#008000" stroke="#008000" stroke-width="1"/><rect x="521.9" y="1044.5" width="8.4" height="8.4" fill="#008000" stroke="#008000" stroke-width="1"/><rect x="540.3" y="1046.6" width="8.4" height="8.4" fill="#008000" stroke="#008000" stroke-width="1"/><rect x="558.7" y="1048.6" width="8.4" height="8.4" fill="#008000" stroke="#008000" stroke-width="1"/><rect x="577.0" y="1050.6" width="8.4" height="8.4" fill="#008000" stroke="#008000" stroke-width="1"/><rect x="595.4" y="1052.6" width="8.4" height="8.4" fill="#008000" stroke="#008000" stroke-width="1"/><rect x="613.8" y="1054.6" width="8.4" height="8.4" fill="#008000" stroke="#008000" stroke-width="1"/><rect x="632.2" y="1056.6" width="8.4" height="8.4" fill="#008000" stroke="#008000" stroke-width="1"/><rect x="650.5" y="1058.7" width="8.4" height="8.4" fill="#008000" stroke="#008000" stroke-width="1"/><rect x="668.9" y="1060.7" width="8.4" height="8.4" fill="#008000" stroke="#008000" stroke-width="1"/><rect x="687.3" y="1062.7" width="8.4" height="8.4" fill="#008000" stroke="#008000" stroke-width="1"/><rect x="705.6" y="1064.7" width="8.4" height="8.4" fill="#008000" stroke="#008000" stroke-width="1"/><rect x="724.0" y="1066.7" width="8.4" height="8.4" fill="#008000" stroke="#008000" stroke-width="1"/><rect x="742.4" y="1068.7" width="8.4" height="8.4" fill="#008000" stroke="#008000" stroke-width="1"/><rect x="760.8" y="1070.7" width="8.4" height="8.4" fill="#008000" stroke="#008000" stroke-width="1"/><rect x="779.1" y="1072.7" width="8.4" height="8.4" fill="#008000" stroke="#008000" stroke-width="1"/><rect x="797.5" y="1074.7" width="8.4" height="8.4" fill="#008000" stroke="#008000" stroke-width="1"/><rect x="815.9" y="1076.7" width="8.4" height="8.4" fill="#008000" stroke="#008000" stroke-width="1"/><rect x="834.2" y="1078.7" width="8.4" height="8.4" fill="#008000" stroke="#008000" stroke-width="1"/><rect x="852.6" y="1080.7" width="8.4" height="8.4" fill="#008000" stroke="#008000" stroke-width="1"/><rect x="871.0" y="1082.7" width="8.4" height="8.4" fill="#008000" stroke="#008000" stroke-width="1"/><rect x="889.3" y="1084.7" width="8.4" height="8.4" fill="#008000" stroke="#008000" stroke-width="1"/><rect x="907.7" y="1086.7" width="8.4" height="8.4" fill="#008000" stroke="#008000" stroke-width="1"/><rect x="926.1" y="1088.7" width="8.4" height="8.4" fill="#008000" stroke="#008000" stroke-width="1"/><rect x="944.5" y="1090.7" width="8.4" height="8.4" fill="#008000" stroke="#008000" stroke-width="1"/><rect x="962.8" y="1092.7" width="8.4" height="8.4" fill="#008000" stroke="#008000" stroke-width="1"/><rect x="981.2" y="1094.6" width="8.4" height="8.4" fill="#008000" stroke="#008000" stroke-width="1"/><rect x="999.6" y="1096.6" width="8.4" height="8.4" fill="#008000" stroke="#008000" stroke-width="1"/><rect x="1017.9" y="1098.6" width="8.4" height="8.4" fill="#008000" stroke="#008000" stroke-width="1"/><rect x="1036.3" y="1100.6" width="8.4" height="8.4" fill="#008000" stroke="#008000" stroke-width="1"/><rect x="1054.7" y="1102.5" width="8.4" height="8.4" fill="#008000" stroke="#008000" stroke-width="1"/><rect x="1073.0" y="1104.5" width="8.4" height="8.4" fill="#008000" stroke="#008000" stroke-width="1"/><rect x="1091.4" y="1106.5" width="8.4" height="8.4" fill="#008000" stroke="#008000" stroke-width="1"/><rect x="1109.8" y="1108.4" width="8.4" height="8.4" fill="#008000" stroke="#008000" stroke-width="1"/><rect x="1128.1" y="1110.4" width="8.4" height="8.4" fill="#008000" stroke="#008000" stroke-width="1"/><rect x="1146.5" y="1112.3" width="8.4" height="8.4" fill="#008000" stroke="#008000" stroke-width="1"/><rect x="1164.9" y="1114.3" width="8.4" height="8.4" fill="#008000" stroke="#008000" stroke-width="1"/><rect x="1183.3" y="1116.2" width="8.4" height="8.4" fill="#008000" stroke="#008000" stroke-width="1"/><rect x="1201.6" y="1118.2" width="8.4" height="8.4" fill="#008000" stroke="#008000" stroke-width="1"/><rect x="1220.0" y="1120.1" width="8.4" height="8.4" fill="#008000" stroke="#008000" stroke-width="1"/><rect x="1238.4" y="1122.1" width="8.4" height="8.4" fill="#008000" stroke="#008000" stroke-width="1"/><rect x="1256.7" y="1124.0" width="8.4" height="8.4" fill="#008000" stroke="#008000" stroke-width="1"/><rect x="1275.1" y="1125.9" width="8.4" height="8.4" fill="#008000" stroke="#008000" stroke-width="1"/><rect x="1293.5" y="1127.9" width="8.4" height="8.4" fill="#008000" stroke="#008000" stroke-width="1"/><rect x="1311.8" y="1129.8" width="8.4" height="8.4" fill="#008000" stroke="#008000" stroke-width="1"/><rect x="1330.2" y="1131.7" width="8.4" height="8.4" fill="#008000" stroke="#008000" stroke-width="1"/><rect x="1348.6" y="1133.6" width="8.4" height="8.4" fill="#008000" stroke="#008000" stroke-width="1"/><rect x="1367.0" y="1135.5" width="8.4" height="8.4" fill="#008000" stroke="#008000" stroke-width="1"/><rect x="1385.3" y="1137.4" width="8.4" height="8.4" fill="#008000" stroke="#008000" stroke-width="1"/><rect x="1403.7" y="1139.3" width="8.4" height="8.4" fill="#008000" stroke="#008000" stroke-width="1"/><rect x="1422.1" y="1141.2" width="8.4" height="8.4" fill="#008000" stroke="#008000" stroke-width="1"/><rect x="1440.4" y="1143.1" width="8.4" height="8.4" fill="#008000" stroke="#008000" stroke-width="1"/><rect x="1458.8" y="1145.0" width="8.4" height="8.4" fill="#008000" stroke="#008000" stroke-width="1"/><rect x="1477.2" y="1146.9" width="8.4" height="8.4" fill="#008000" stroke="#008000" stroke-width="1"/><rect x="1495.5" y="1148.8" width="8.4" height="8.4" fill="#008000" stroke="#008000" stroke-width="1"/><rect x="1513.9" y="1150.6" width="8.4" height="8.4" fill="#008000" stroke="#008000" stroke-width="1"/><rect x="1532.3" y="1152.5" width="8.4" height="8.4" fill="#008000" stroke="#008000" stroke-width="1"/><rect x="1550.7" y="1154.4" width="8.4" height="8.4" fill="#008000" stroke="#008000" stroke-width="1"/><rect x="1569.0" y="1156.2" width="8.4" height="8.4" fill="#008000" stroke="#008000" stroke-width="1"/></g>
<polyline points="122.0,974.0 140.4,976.0 158.7,978.0 177.1,980.0 195.5,982.0 213.9,984.0 232.2,986.0 250.6,988.0 269.0,990.0 287.3,992.0 305.7,994.0 324.1,996.1 342.4,998.1 360.8,1000.1 379.2,1002.1 397.6,1004.1 415.9,1006.1 434.3,1008.1 452.7,1010.1 471.0,1012.2 489.4,1014.2 507.8,1016.2 526.1,1018.2 544.5,1020.2 562.9,1022.2 581.2,1024.2 599.6,1026.2 618.0,1028.2 636.4,1030.3 654.7,1032.3 673.1,1034.3 691.5,1036.3 709.8,1038.3 728.2,1040.3 746.6,1042.3 765.0,1044.3 783.3,1046.3 801.7,1048.3 820.1,1050.3 838.4,1052.3 856.8,1054.3 875.2,1056.3 893.5,1058.3 911.9,1060.3 930.3,1062.3 948.7,1064.3 967.0,1066.3 985.4,1068.2 1003.8,1070.2 1022.1,1072.2 1040.5,1074.2 1058.9,1076.2 1077.2,1078.2 1095.6,1080.1 1114.0,1082.1 1132.3,1084.1 1150.7,1086.0 1169.1,1088.0 1187.5,1090.0 1205.8,1091.9 1224.2,1093.9 1242.6,1095.8 1260.9,1097.8 1279.3,1099.7 1297.7,1101.7 1316.0,1103.6 1334.4,1105.6 1352.8,1107.5 1371.2,1109.5 1389.5,1111.4 1407.9,1113.3 1426.3,1115.2 1444.6,1117.2 1463.0,1119.1 1481.4,1121.0 1499.8,1122.9 1518.1,1124.8 1536.5,1126.7 1554.9,1128.6 1573.2,1130.5" fill="none" stroke="#0000ff" stroke-width="1.9" stroke-linejoin="round"/>
<g><circle cx="122.0" cy="974.0" r="4.3" fill="#0000ff" stroke="#0000ff" stroke-width="1"/><circle cx="140.4" cy="976.0" r="4.3" fill="#0000ff" stroke="#0000ff" stroke-width="1"/><circle cx="158.7" cy="978.0" r="4.3" fill="#0000ff" stroke="#0000ff" stroke-width="1"/><circle cx="177.1" cy="980.0" r="4.3" fill="#0000ff" stroke="#0000ff" stroke-width="1"/><circle cx="195.5" cy="982.0" r="4.3" fill="#0000ff" stroke="#0000ff" stroke-width="1"/><circle cx="213.9" cy="984.0" r="4.3" fill="#0000ff" stroke="#0000ff" stroke-width="1"/><circle cx="232.2" cy="986.0" r="4.3" fill="#0000ff" stroke="#0000ff" stroke-width="1"/><circle cx="250.6" cy="988.0" r="4.3" fill="#0000ff" stroke="#0000ff" stroke-width="1"/><circle cx="269.0" cy="990.0" r="4.3" fill="#0000ff" stroke="#0000ff" stroke-width="1"/><circle cx="287.3" cy="992.0" r="4.3" fill="#0000ff" stroke="#0000ff" stroke-width="1"/><circle cx="305.7" cy="994.0" r="4.3" fill="#0000ff" stroke="#0000ff" stroke-width="1"/><circle cx="324.1" cy="996.1" r="4.3" fill="#0000ff" stroke="#0000ff" stroke-width="1"/><circle cx="342.4" cy="998.1" r="4.3" fill="#0000ff" stroke="#0000ff" stroke-width="1"/><circle cx="360.8" cy="1000.1" r="4.3" fill="#0000ff" stroke="#0000ff" stroke-width="1"/><circle cx="379.2" cy="1002.1" r="4.3" fill="#0000ff" stroke="#0000ff" stroke-width="1"/><circle cx="397.6" cy="1004.1" r="4.3" fill="#0000ff" stroke="#0000ff" stroke-width="1"/><circle cx="415.9" cy="1006.1" r="4.3" fill="#0000ff" stroke="#0000ff" stroke-width="1"/><circle cx="434.3" cy="1008.1" r="4.3" fill="#0000ff" stroke="#0000ff" stroke-width="1"/><circle cx="452.7" cy="1010.1" r="4.3" fill="#0000ff" stroke="#0000ff" stroke-width="1"/><circle cx="471.0" cy="1012.2" r="4.3" fill="#0000ff" stroke="#0000ff" stroke-width="1"/><circle cx="489.4" cy="1014.2" r="4.3" fill="#0000ff" stroke="#0000ff" stroke-width="1"/><circle cx="507.8" cy="1016.2" r="4.3" fill="#0000ff" stroke="#0000ff" stroke-width="1"/><circle cx="526.1" cy="1018.2" r="4.3" fill="#0000ff" stroke="#0000ff" stroke-width="1"/><circle cx="544.5" cy="1020.2" r="4.3" fill="#0000ff" stroke="#0000ff" stroke-width="1"/><circle cx="562.9" cy="1022.2" r="4.3" fill="#0000ff" stroke="#0000ff" stroke-width="1"/><circle cx="581.2" cy="1024.2" r="4.3" fill="#0000ff" stroke="#0000ff" stroke-width="1"/><circle cx="599.6" cy="1026.2" r="4.3" fill="#0000ff" stroke="#0000ff" stroke-width="1"/><circle cx="618.0" cy="1028.2" r="4.3" fill="#0000ff" stroke="#0000ff" stroke-width="1"/><circle cx="636.4" cy="1030.3" r="4.3" fill="#0000ff" stroke="#0000ff" stroke-width="1"/><circle cx="654.7" cy="1032.3" r="4.3" fill="#0000ff" stroke="#0000ff" stroke-width="1"/><circle cx="673.1" cy="1034.3" r="4.3" fill="#0000ff" stroke="#0000ff" stroke-width="1"/><circle cx="691.5" cy="1036.3" r="4.3" fill="#0000ff" stroke="#0000ff" stroke-width="1"/><circle cx="709.8" cy="1038.3" r="4.3" fill="#0000ff" stroke="#0000ff" stroke-width="1"/><circle cx="728.2" cy="1040.3" r="4.3" fill="#0000ff" stroke="#0000ff" stroke-width="1"/><circle cx="746.6" cy="1042.3" r="4.3" fill="#0000ff" stroke="#0000ff" stroke-width="1"/><circle cx="765.0" cy="1044.3" r="4.3" fill="#0000ff" stroke="#0000ff" stroke-width="1"/><circle cx="783.3" cy="1046.3" r="4.3" fill="#0000ff" stroke="#0000ff" stroke-width="1"/><circle cx="801.7" cy="1048.3" r="4.3" fill="#0000ff" stroke="#0000ff" stroke-width="1"/><circle cx="820.1" cy="1050.3" r="4.3" fill="#0000ff" stroke="#0000ff" stroke-width="1"/><circle cx="838.4" cy="1052.3" r="4.3" fill="#0000ff" stroke="#0000ff" stroke-width="1"/><circle cx="856.8" cy="1054.3" r="4.3" fill="#0000ff" stroke="#0000ff" stroke-width="1"/><circle cx="875.2" cy="1056.3" r="4.3" fill="#0000ff" stroke="#0000ff" stroke-width="1"/><circle cx="893.5" cy="1058.3" r="4.3" fill="#0000ff" stroke="#0000ff" stroke-width="1"/><circle cx="911.9" cy="1060.3" r="4.3" fill="#0000ff" stroke="#0000ff" stroke-width="1"/><circle cx="930.3" cy="1062.3" r="4.3" fill="#0000ff" stroke="#0000ff" stroke-width="1"/><circle cx="948.7" cy="1064.3" r="4.3" fill="#0000ff" stroke="#0000ff" stroke-width="1"/><circle cx="967.0" cy="1066.3" r="4.3" fill="#0000ff" stroke="#0000ff" stroke-width="1"/><circle cx="985.4" cy="1068.2" r="4.3" fill="#0000ff" stroke="#0000ff" stroke-width="1"/><circle cx="1003.8" cy="1070.2" r="4.3" fill="#0000ff" stroke="#0000ff" stroke-width="1"/><circle cx="1022.1" cy="1072.2" r="4.3" fill="#0000ff" stroke="#0000ff" stroke-width="1"/><circle cx="1040.5" cy="1074.2" r="4.3" fill="#0000ff" stroke="#0000ff" stroke-width="1"/><circle cx="1058.9" cy="1076.2" r="4.3" fill="#0000ff" stroke="#0000ff" stroke-width="1"/><circle cx="1077.2" cy="1078.2" r="4.3" fill="#0000ff" stroke="#0000ff" stroke-width="1"/><circle cx="1095.6" cy="1080.1" r="4.3" fill="#0000ff" stroke="#0000ff" stroke-width="1"/><circle cx="1114.0" cy="1082.1" r="4.3" fill="#0000ff" stroke="#0000ff" stroke-width="1"/><circle cx="1132.3" cy="1084.1" r="4.3" fill="#0000ff" stroke="#0000ff" stroke-width="1"/><circle cx="1150.7" cy="1086.0" r="4.3" fill="#0000ff" stroke="#0000ff" stroke-width="1"/><circle cx="1169.1" cy="1088.0" r="4.3" fill="#0000ff" stroke="#0000ff" stroke-width="1"/><circle cx="1187.5" cy="1090.0" r="4.3" fill="#0000ff" stroke="#0000ff" stroke-width="1"/><circle cx="1205.8" cy="1091.9" r="4.3" fill="#0000ff" stroke="#0000ff" stroke-width="1"/><circle cx="1224.2" cy="1093.9" r="4.3" fill="#0000ff" stroke="#0000ff" stroke-width="1"/><circle cx="1242.6" cy="1095.8" r="4.3" fill="#0000ff" stroke="#0000ff" stroke-width="1"/><circle cx="1260.9" cy="1097.8" r="4.3" fill="#0000ff" stroke="#0000ff" stroke-width="1"/><circle cx="1279.3" cy="1099.7" r="4.3" fill="#0000ff" stroke="#0000ff" stroke-width="1"/><circle cx="1297.7" cy="1101.7" r="4.3" fill="#0000ff" stroke="#0000ff" stroke-width="1"/><circle cx="1316.0" cy="1103.6" r="4.3" fill="#0000ff" stroke="#0000ff" stroke-width="1"/><circle cx="1334.4" cy="1105.6" r="4.3" fill="#0000ff" stroke="#0000ff" stroke-width="1"/><circle cx="1352.8" cy="1107.5" r="4.3" fill="#0000ff" stroke="#0000ff" stroke-width="1"/><circle cx="1371.2" cy="1109.5" r="4.3" fill="#0000ff" stroke="#0000ff" stroke-width="1"/><circle cx="1389.5" cy="1111.4" r="4.3" fill="#0000ff" stroke="#0000ff" stroke-width="1"/><circle cx="1407.9" cy="1113.3" r="4.3" fill="#0000ff" stroke="#0000ff" stroke-width="1"/><circle cx="1426.3" cy="1115.2" r="4.3" fill="#0000ff" stroke="#0000ff" stroke-width="1"/><circle cx="1444.6" cy="1117.2" r="4.3" fill="#0000ff" stroke="#0000ff" stroke-width="1"/><circle cx="1463.0" cy="1119.1" r="4.3" fill="#0000ff" stroke="#0000ff" stroke-width="1"/><circle cx="1481.4" cy="1121.0" r="4.3" fill="#0000ff" stroke="#0000ff" stroke-width="1"/><circle cx="1499.8" cy="1122.9" r="4.3" fill="#0000ff" stroke="#0000ff" stroke-width="1"/><circle cx="1518.1" cy="1124.8" r="4.3" fill="#0000ff" stroke="#0000ff" stroke-width="1"/><circle cx="1536.5" cy="1126.7" r="4.3" fill="#0000ff" stroke="#0000ff" stroke-width="1"/><circle cx="1554.9" cy="1128.6" r="4.3" fill="#0000ff" stroke="#0000ff" stroke-width="1"/><circle cx="1573.2" cy="1130.5" r="4.3" fill="#0000ff" stroke="#0000ff" stroke-width="1"/></g>
<polyline points="122.0,953.3 140.4,955.3 158.7,957.3 177.1,959.3 195.5,961.3 213.9,963.3 232.2,965.3 250.6,967.3 269.0,969.3 287.3,971.3 305.7,973.3 324.1,975.3 342.4,977.3 360.8,979.3 379.2,981.3 397.6,983.3 415.9,985.3 434.3,987.3 452.7,989.3 471.0,991.3 489.4,993.3 507.8,995.3 526.1,997.3 544.5,999.3 562.9,1001.3 581.2,1003.3 599.6,1005.3 618.0,1007.4 636.4,1009.4 654.7,1011.4 673.1,1013.4 691.5,1015.4 709.8,1017.4 728.2,1019.4 746.6,1021.4 765.0,1023.4 783.3,1025.4 801.7,1027.4 820.1,1029.4 838.4,1031.4 856.8,1033.4 875.2,1035.4 893.5,1037.4 911.9,1039.4 930.3,1041.4 948.7,1043.4 967.0,1045.4 985.4,1047.4 1003.8,1049.4 1022.1,1051.4 1040.5,1053.4 1058.9,1055.3 1077.2,1057.3 1095.6,1059.3 1114.0,1061.3 1132.3,1063.3 1150.7,1065.3 1169.1,1067.2 1187.5,1069.2 1205.8,1071.2 1224.2,1073.2 1242.6,1075.1 1260.9,1077.1 1279.3,1079.1 1297.7,1081.1 1316.0,1083.0 1334.4,1085.0 1352.8,1086.9 1371.2,1088.9 1389.5,1090.9 1407.9,1092.8 1426.3,1094.8 1444.6,1096.7 1463.0,1098.7 1481.4,1100.6 1499.8,1102.6 1518.1,1104.5 1536.5,1106.4 1554.9,1108.4 1573.2,1110.3" fill="none" stroke="#bf00bf" stroke-width="1.9" stroke-linejoin="round"/>
<g><path d="M122.0 949.5L125.8 957.1L118.2 957.1Z" fill="#bf00bf" stroke="#bf00bf" stroke-width="1"/><path d="M140.4 951.5L144.2 959.1L136.6 959.1Z" fill="#bf00bf" stroke="#bf00bf" stroke-width="1"/><path d="M158.7 953.5L162.5 961.1L154.9 961.1Z" fill="#bf00bf" stroke="#bf00bf" stroke-width="1"/><path d="M177.1 955.5L180.9 963.1L173.3 963.1Z" fill="#bf00bf" stroke="#bf00bf" stroke-width="1"/><path d="M195.5 957.5L199.3 965.1L191.7 965.1Z" fill="#bf00bf" stroke="#bf00bf" stroke-width="1"/><path d="M213.9 959.5L217.7 967.1L210.1 967.1Z" fill="#bf00bf" stroke="#bf00bf" stroke-width="1"/><path d="M232.2 961.5L236.0 969.1L228.4 969.1Z" fill="#bf00bf" stroke="#bf00bf" stroke-width="1"/><path d="M250.6 963.5L254.4 971.1L246.8 971.1Z" fill="#bf00bf" stroke="#bf00bf" stroke-width="1"/><path d="M269.0 965.5L272.8 973.1L265.2 973.1Z" fill="#bf00bf" stroke="#bf00bf" stroke-width="1"/><path d="M287.3 967.5L291.1 975.1L283.5 975.1Z" fill="#bf00bf" stroke="#bf00bf" stroke-width="1"/><path d="M305.7 969.5L309.5 977.1L301.9 977.1Z" fill="#bf00bf" stroke="#bf00bf" stroke-width="1"/><path d="M324.1 971.5L327.9 979.1L320.3 979.1Z" fill="#bf00bf" stroke="#bf00bf" stroke-width="1"/><path d="M342.4 973.5L346.2 981.1L338.6 981.1Z" fill="#bf00bf" stroke="#bf00bf" stroke-width="1"/><path d="M360.8 975.5L364.6 983.1L357.0 983.1Z" fill="#bf00bf" stroke="#bf00bf" stroke-width="1"/><path d="M379.2 977.5L383.0 985.1L375.4 985.1Z" fill="#bf00bf" stroke="#bf00bf" stroke-width="1"/><path d="M397.6 979.5L401.4 987.1L393.8 987.1Z" fill="#bf00bf" stroke="#bf00bf" stroke-width="1"/><path d="M415.9 981.5L419.7 989.1L412.1 989.1Z" fill="#bf00bf" stroke="#bf00bf" stroke-width="1"/><path d="M434.3 983.5L438.1 991.1L430.5 991.1Z" fill="#bf00bf" stroke="#bf00bf" stroke-width="1"/><path d="M452.7 985.5L456.5 993.1L448.9 993.1Z" fill="#bf00bf" stroke="#bf00bf" stroke-width="1"/><path d="M471.0 987.5L474.8 995.1L467.2 995.1Z" fill="#bf00bf" stroke="#bf00bf" stroke-width="1"/><path d="M489.4 989.5L493.2 997.1L485.6 997.1Z" fill="#bf00bf" stroke="#bf00bf" stroke-width="1"/><path d="M507.8 991.5L511.6 999.1L504.0 999.1Z" fill="#bf00bf" stroke="#bf00bf" stroke-width="1"/><path d="M526.1 993.5L529.9 1001.1L522.3 1001.1Z" fill="#bf00bf" stroke="#bf00bf" stroke-width="1"/><path d="M544.5 995.5L548.3 1003.1L540.7 1003.1Z" fill="#bf00bf" stroke="#bf00bf" stroke-width="1"/><path d="M562.9 997.5L566.7 1005.1L559.1 1005.1Z" fill="#bf00bf" stroke="#bf00bf" stroke-width="1"/><path d="M581.2 999.5L585.0 1007.1L577.5 1007.1Z" fill="#bf00bf" stroke="#bf00bf" stroke-width="1"/><path d="M599.6 1001.5L603.4 1009.1L595.8 1009.1Z" fill="#bf00bf" stroke="#bf00bf" stroke-width="1"/><path d="M618.0 1003.6L621.8 1011.2L614.2 1011.2Z" fill="#bf00bf" stroke="#bf00bf" stroke-width="1"/><path d="M636.4 1005.6L640.2 1013.2L632.6 1013.2Z" fill="#bf00bf" stroke="#bf00bf" stroke-width="1"/><path d="M654.7 1007.6L658.5 1015.2L650.9 1015.2Z" fill="#bf00bf" stroke="#bf00bf" stroke-width="1"/><path d="M673.1 1009.6L676.9 1017.2L669.3 1017.2Z" fill="#bf00bf" stroke="#bf00bf" stroke-width="1"/><path d="M691.5 1011.6L695.3 1019.2L687.7 1019.2Z" fill="#bf00bf" stroke="#bf00bf" stroke-width="1"/><path d="M709.8 1013.6L713.6 1021.2L706.0 1021.2Z" fill="#bf00bf" stroke="#bf00bf" stroke-width="1"/><path d="M728.2 1015.6L732.0 1023.2L724.4 1023.2Z" fill="#bf00bf" stroke="#bf00bf" stroke-width="1"/><path d="M746.6 1017.6L750.4 1025.2L742.8 1025.2Z" fill="#bf00bf" stroke="#bf00bf" stroke-width="1"/><path d="M765.0 1019.6L768.8 1027.2L761.2 1027.2Z" fill="#bf00bf" stroke="#bf00bf" stroke-width="1"/><path d="M783.3 1021.6L787.1 1029.2L779.5 1029.2Z" fill="#bf00bf" stroke="#bf00bf" stroke-width="1"/><path d="M801.7 1023.6L805.5 1031.2L797.9 1031.2Z" fill="#bf00bf" stroke="#bf00bf" stroke-width="1"/><path d="M820.1 1025.6L823.9 1033.2L816.3 1033.2Z" fill="#bf00bf" stroke="#bf00bf" stroke-width="1"/><path d="M838.4 1027.6L842.2 1035.2L834.6 1035.2Z" fill="#bf00bf" stroke="#bf00bf" stroke-width="1"/><path d="M856.8 1029.6L860.6 1037.2L853.0 1037.2Z" fill="#bf00bf" stroke="#bf00bf" stroke-width="1"/><path d="M875.2 1031.6L879.0 1039.2L871.4 1039.2Z" fill="#bf00bf" stroke="#bf00bf" stroke-width="1"/><path d="M893.5 1033.6L897.3 1041.2L889.7 1041.2Z" fill="#bf00bf" stroke="#bf00bf" stroke-width="1"/><path d="M911.9 1035.6L915.7 1043.2L908.1 1043.2Z" fill="#bf00bf" stroke="#bf00bf" stroke-width="1"/><path d="M930.3 1037.6L934.1 1045.2L926.5 1045.2Z" fill="#bf00bf" stroke="#bf00bf" stroke-width="1"/><path d="M948.7 1039.6L952.5 1047.2L944.9 1047.2Z" fill="#bf00bf" stroke="#bf00bf" stroke-width="1"/><path d="M967.0 1041.6L970.8 1049.2L963.2 1049.2Z" fill="#bf00bf" stroke="#bf00bf" stroke-width="1"/><path d="M985.4 1043.6L989.2 1051.2L981.6 1051.2Z" fill="#bf00bf" stroke="#bf00bf" stroke-width="1"/><path d="M1003.8 1045.6L1007.6 1053.2L1000.0 1053.2Z" fill="#bf00bf" stroke="#bf00bf" stroke-width="1"/><path d="M1022.1 1047.6L1025.9 1055.2L1018.3 1055.2Z" fill="#bf00bf" stroke="#bf00bf" stroke-width="1"/><path d="M1040.5 1049.6L1044.3 1057.2L1036.7 1057.2Z" fill="#bf00bf" stroke="#bf00bf" stroke-width="1"/><path d="M1058.9 1051.5L1062.7 1059.1L1055.1 1059.1Z" fill="#bf00bf" stroke="#bf00bf" stroke-width="1"/><path d="M1077.2 1053.5L1081.0 1061.1L1073.4 1061.1Z" fill="#bf00bf" stroke="#bf00bf" stroke-width="1"/><path d="M1095.6 1055.5L1099.4 1063.1L1091.8 1063.1Z" fill="#bf00bf" stroke="#bf00bf" stroke-width="1"/><path d="M1114.0 1057.5L1117.8 1065.1L1110.2 1065.1Z" fill="#bf00bf" stroke="#bf00bf" stroke-width="1"/><path d="M1132.3 1059.5L1136.1 1067.1L1128.5 1067.1Z" fill="#bf00bf" stroke="#bf00bf" stroke-width="1"/><path d="M1150.7 1061.5L1154.5 1069.1L1146.9 1069.1Z" fill="#bf00bf" stroke="#bf00bf" stroke-width="1"/><path d="M1169.1 1063.4L1172.9 1071.0L1165.3 1071.0Z" fill="#bf00bf" stroke="#bf00bf" stroke-width="1"/><path d="M1187.5 1065.4L1191.3 1073.0L1183.7 1073.0Z" fill="#bf00bf" stroke="#bf00bf" stroke-width="1"/><path d="M1205.8 1067.4L1209.6 1075.0L1202.0 1075.0Z" fill="#bf00bf" stroke="#bf00bf" stroke-width="1"/><path d="M1224.2 1069.4L1228.0 1077.0L1220.4 1077.0Z" fill="#bf00bf" stroke="#bf00bf" stroke-width="1"/><path d="M1242.6 1071.3L1246.4 1078.9L1238.8 1078.9Z" fill="#bf00bf" stroke="#bf00bf" stroke-width="1"/><path d="M1260.9 1073.3L1264.7 1080.9L1257.1 1080.9Z" fill="#bf00bf" stroke="#bf00bf" stroke-width="1"/><path d="M1279.3 1075.3L1283.1 1082.9L1275.5 1082.9Z" fill="#bf00bf" stroke="#bf00bf" stroke-width="1"/><path d="M1297.7 1077.3L1301.5 1084.9L1293.9 1084.9Z" fill="#bf00bf" stroke="#bf00bf" stroke-width="1"/><path d="M1316.0 1079.2L1319.8 1086.8L1312.2 1086.8Z" fill="#bf00bf" stroke="#bf00bf" stroke-width="1"/><path d="M1334.4 1081.2L1338.2 1088.8L1330.6 1088.8Z" fill="#bf00bf" stroke="#bf00bf" stroke-width="1"/><path d="M1352.8 1083.1L1356.6 1090.7L1349.0 1090.7Z" fill="#bf00bf" stroke="#bf00bf" stroke-width="1"/><path d="M1371.2 1085.1L1375.0 1092.7L1367.4 1092.7Z" fill="#bf00bf" stroke="#bf00bf" stroke-width="1"/><path d="M1389.5 1087.1L1393.3 1094.7L1385.7 1094.7Z" fill="#bf00bf" stroke="#bf00bf" stroke-width="1"/><path d="M1407.9 1089.0L1411.7 1096.6L1404.1 1096.6Z" fill="#bf00bf" stroke="#bf00bf" stroke-width="1"/><path d="M1426.3 1091.0L1430.1 1098.6L1422.5 1098.6Z" fill="#bf00bf" stroke="#bf00bf" stroke-width="1"/><path d="M1444.6 1092.9L1448.4 1100.5L1440.8 1100.5Z" fill="#bf00bf" stroke="#bf00bf" stroke-width="1"/><path d="M1463.0 1094.9L1466.8 1102.5L1459.2 1102.5Z" fill="#bf00bf" stroke="#bf00bf" stroke-width="1"/><path d="M1481.4 1096.8L1485.2 1104.4L1477.6 1104.4Z" fill="#bf00bf" stroke="#bf00bf" stroke-width="1"/><path d="M1499.8 1098.8L1503.5 1106.4L1496.0 1106.4Z" fill="#bf00bf" stroke="#bf00bf" stroke-width="1"/><path d="M1518.1 1100.7L1521.9 1108.3L1514.3 1108.3Z" fill="#bf00bf" stroke="#bf00bf" stroke-width="1"/><path d="M1536.5 1102.6L1540.3 1110.2L1532.7 1110.2Z" fill="#bf00bf" stroke="#bf00bf" stroke-width="1"/><path d="M1554.9 1104.6L1558.7 1112.2L1551.1 1112.2Z" fill="#bf00bf" stroke="#bf00bf" stroke-width="1"/><path d="M1573.2 1106.5L1577.0 1114.1L1569.4 1114.1Z" fill="#bf00bf" stroke="#bf00bf" stroke-width="1"/></g>
<polyline points="122.0,935.4 140.4,937.4 158.7,939.4 177.1,941.4 195.5,943.5 213.9,945.5 232.2,947.5 250.6,949.5 269.0,951.5 287.3,953.6 305.7,955.6 324.1,957.6 342.4,959.6 360.8,961.6 379.2,963.6 397.6,965.7 415.9,967.7 434.3,969.7 452.7,971.7 471.0,973.8 489.4,975.8 507.8,977.8 526.1,979.8 544.5,981.8 562.9,983.9 581.2,985.9 599.6,987.9 618.0,989.9 636.4,991.9 654.7,993.9 673.1,996.0 691.5,998.0 709.8,1000.0 728.2,1002.0 746.6,1004.0 765.0,1006.0 783.3,1008.0 801.7,1010.1 820.1,1012.1 838.4,1014.1 856.8,1016.1 875.2,1018.1 893.5,1020.1 911.9,1022.1 930.3,1024.1 948.7,1026.1 967.0,1028.1 985.4,1030.1 1003.8,1032.1 1022.1,1034.1 1040.5,1036.1 1058.9,1038.0 1077.2,1040.0 1095.6,1042.0 1114.0,1044.0 1132.3,1046.0 1150.7,1048.0 1169.1,1049.9 1187.5,1051.9 1205.8,1053.9 1224.2,1055.9 1242.6,1057.8 1260.9,1059.8 1279.3,1061.7 1297.7,1063.7 1316.0,1065.7 1334.4,1067.6 1352.8,1069.6 1371.2,1071.5 1389.5,1073.5 1407.9,1075.4 1426.3,1077.3 1444.6,1079.3 1463.0,1081.2 1481.4,1083.1 1499.8,1085.1 1518.1,1087.0 1536.5,1088.9 1554.9,1090.8 1573.2,1092.7" fill="none" stroke="#000000" stroke-width="1.9" stroke-linejoin="round"/>
<g><path d="M122.0 930.0L127.4 935.4L122.0 940.8L116.6 935.4Z" fill="#000000" stroke="#000000" stroke-width="1"/><path d="M140.4 932.0L145.8 937.4L140.4 942.8L135.0 937.4Z" fill="#000000" stroke="#000000" stroke-width="1"/><path d="M158.7 934.0L164.1 939.4L158.7 944.8L153.3 939.4Z" fill="#000000" stroke="#000000" stroke-width="1"/><path d="M177.1 936.0L182.5 941.4L177.1 946.8L171.7 941.4Z" fill="#000000" stroke="#000000" stroke-width="1"/><path d="M195.5 938.1L200.9 943.5L195.5 948.9L190.1 943.5Z" fill="#000000" stroke="#000000" stroke-width="1"/><path d="M213.9 940.1L219.3 945.5L213.9 950.9L208.5 945.5Z" fill="#000000" stroke="#000000" stroke-width="1"/><path d="M232.2 942.1L237.6 947.5L232.2 952.9L226.8 947.5Z" fill="#000000" stroke="#000000" stroke-width="1"/><path d="M250.6 944.1L256.0 949.5L250.6 954.9L245.2 949.5Z" fill="#000000" stroke="#000000" stroke-width="1"/><path d="M269.0 946.1L274.4 951.5L269.0 956.9L263.6 951.5Z" fill="#000000" stroke="#000000" stroke-width="1"/><path d="M287.3 948.2L292.7 953.6L287.3 959.0L281.9 953.6Z" fill="#000000" stroke="#000000" stroke-width="1"/><path d="M305.7 950.2L311.1 955.6L305.7 961.0L300.3 955.6Z" fill="#000000" stroke="#000000" stroke-width="1"/><path d="M324.1 952.2L329.5 957.6L324.1 963.0L318.7 957.6Z" fill="#000000" stroke="#000000" stroke-width="1"/><path d="M342.4 954.2L347.8 959.6L342.4 965.0L337.0 959.6Z" fill="#000000" stroke="#000000" stroke-width="1"/><path d="M360.8 956.2L366.2 961.6L360.8 967.0L355.4 961.6Z" fill="#000000" stroke="#000000" stroke-width="1"/><path d="M379.2 958.2L384.6 963.6L379.2 969.0L373.8 963.6Z" fill="#000000" stroke="#000000" stroke-width="1"/><path d="M397.6 960.3L402.9 965.7L397.6 971.1L392.2 965.7Z" fill="#000000" stroke="#000000" stroke-width="1"/><path d="M415.9 962.3L421.3 967.7L415.9 973.1L410.5 967.7Z" fill="#000000" stroke="#000000" stroke-width="1"/><path d="M434.3 964.3L439.7 969.7L434.3 975.1L428.9 969.7Z" fill="#000000" stroke="#000000" stroke-width="1"/><path d="M452.7 966.3L458.1 971.7L452.7 977.1L447.3 971.7Z" fill="#000000" stroke="#000000" stroke-width="1"/><path d="M471.0 968.4L476.4 973.8L471.0 979.2L465.6 973.8Z" fill="#000000" stroke="#000000" stroke-width="1"/><path d="M489.4 970.4L494.8 975.8L489.4 981.2L484.0 975.8Z" fill="#000000" stroke="#000000" stroke-width="1"/><path d="M507.8 972.4L513.2 977.8L507.8 983.2L502.4 977.8Z" fill="#000000" stroke="#000000" stroke-width="1"/><path d="M526.1 974.4L531.5 979.8L526.1 985.2L520.7 979.8Z" fill="#000000" stroke="#000000" stroke-width="1"/><path d="M544.5 976.4L549.9 981.8L544.5 987.2L539.1 981.8Z" fill="#000000" stroke="#000000" stroke-width="1"/><path d="M562.9 978.5L568.3 983.9L562.9 989.3L557.5 983.9Z" fill="#000000" stroke="#000000" stroke-width="1"/><path d="M581.2 980.5L586.6 985.9L581.2 991.3L575.9 985.9Z" fill="#000000" stroke="#000000" stroke-width="1"/><path d="M599.6 982.5L605.0 987.9L599.6 993.3L594.2 987.9Z" fill="#000000" stroke="#000000" stroke-width="1"/><path d="M618.0 984.5L623.4 989.9L618.0 995.3L612.6 989.9Z" fill="#000000" stroke="#000000" stroke-width="1"/><path d="M636.4 986.5L641.8 991.9L636.4 997.3L631.0 991.9Z" fill="#000000" stroke="#000000" stroke-width="1"/><path d="M654.7 988.5L660.1 993.9L654.7 999.3L649.3 993.9Z" fill="#000000" stroke="#000000" stroke-width="1"/><path d="M673.1 990.6L678.5 996.0L673.1 1001.4L667.7 996.0Z" fill="#000000" stroke="#000000" stroke-width="1"/><path d="M691.5 992.6L696.9 998.0L691.5 1003.4L686.1 998.0Z" fill="#000000" stroke="#000000" stroke-width="1"/><path d="M709.8 994.6L715.2 1000.0L709.8 1005.4L704.4 1000.0Z" fill="#000000" stroke="#000000" stroke-width="1"/><path d="M728.2 996.6L733.6 1002.0L728.2 1007.4L722.8 1002.0Z" fill="#000000" stroke="#000000" stroke-width="1"/><path d="M746.6 998.6L752.0 1004.0L746.6 1009.4L741.2 1004.0Z" fill="#000000" stroke="#000000" stroke-width="1"/><path d="M765.0 1000.6L770.4 1006.0L765.0 1011.4L759.6 1006.0Z" fill="#000000" stroke="#000000" stroke-width="1"/><path d="M783.3 1002.6L788.7 1008.0L783.3 1013.4L777.9 1008.0Z" fill="#000000" stroke="#000000" stroke-width="1"/><path d="M801.7 1004.7L807.1 1010.1L801.7 1015.5L796.3 1010.1Z" fill="#000000" stroke="#000000" stroke-width="1"/><path d="M820.1 1006.7L825.5 1012.1L820.1 1017.5L814.7 1012.1Z" fill="#000000" stroke="#000000" stroke-width="1"/><path d="M838.4 1008.7L843.8 1014.1L838.4 1019.5L833.0 1014.1Z" fill="#000000" stroke="#000000" stroke-width="1"/><path d="M856.8 1010.7L862.2 1016.1L856.8 1021.5L851.4 1016.1Z" fill="#000000" stroke="#000000" stroke-width="1"/><path d="M875.2 1012.7L880.6 1018.1L875.2 1023.5L869.8 1018.1Z" fill="#000000" stroke="#000000" stroke-width="1"/><path d="M893.5 1014.7L898.9 1020.1L893.5 1025.5L888.1 1020.1Z" fill="#000000" stroke="#000000" stroke-width="1"/><path d="M911.9 1016.7L917.3 1022.1L911.9 1027.5L906.5 1022.1Z" fill="#000000" stroke="#000000" stroke-width="1"/><path d="M930.3 1018.7L935.7 1024.1L930.3 1029.5L924.9 1024.1Z" fill="#000000" stroke="#000000" stroke-width="1"/><path d="M948.7 1020.7L954.1 1026.1L948.7 1031.5L943.3 1026.1Z" fill="#000000" stroke="#000000" stroke-width="1"/><path d="M967.0 1022.7L972.4 1028.1L967.0 1033.5L961.6 1028.1Z" fill="#000000" stroke="#000000" stroke-width="1"/><path d="M985.4 1024.7L990.8 1030.1L985.4 1035.5L980.0 1030.1Z" fill="#000000" stroke="#000000" stroke-width="1"/><path d="M1003.8 1026.7L1009.2 1032.1L1003.8 1037.5L998.4 1032.1Z" fill="#000000" stroke="#000000" stroke-width="1"/><path d="M1022.1 1028.7L1027.5 1034.1L1022.1 1039.5L1016.7 1034.1Z" fill="#000000" stroke="#000000" stroke-width="1"/><path d="M1040.5 1030.7L1045.9 1036.1L1040.5 1041.5L1035.1 1036.1Z" fill="#000000" stroke="#000000" stroke-width="1"/><path d="M1058.9 1032.6L1064.3 1038.0L1058.9 1043.4L1053.5 1038.0Z" fill="#000000" stroke="#000000" stroke-width="1"/><path d="M1077.2 1034.6L1082.6 1040.0L1077.2 1045.4L1071.8 1040.0Z" fill="#000000" stroke="#000000" stroke-width="1"/><path d="M1095.6 1036.6L1101.0 1042.0L1095.6 1047.4L1090.2 1042.0Z" fill="#000000" stroke="#000000" stroke-width="1"/><path d="M1114.0 1038.6L1119.4 1044.0L1114.0 1049.4L1108.6 1044.0Z" fill="#000000" stroke="#000000" stroke-width="1"/><path d="M1132.3 1040.6L1137.8 1046.0L1132.3 1051.4L1126.9 1046.0Z" fill="#000000" stroke="#000000" stroke-width="1"/><path d="M1150.7 1042.6L1156.1 1048.0L1150.7 1053.4L1145.3 1048.0Z" fill="#000000" stroke="#000000" stroke-width="1"/><path d="M1169.1 1044.5L1174.5 1049.9L1169.1 1055.3L1163.7 1049.9Z" fill="#000000" stroke="#000000" stroke-width="1"/><path d="M1187.5 1046.5L1192.9 1051.9L1187.5 1057.3L1182.1 1051.9Z" fill="#000000" stroke="#000000" stroke-width="1"/><path d="M1205.8 1048.5L1211.2 1053.9L1205.8 1059.3L1200.4 1053.9Z" fill="#000000" stroke="#000000" stroke-width="1"/><path d="M1224.2 1050.5L1229.6 1055.9L1224.2 1061.3L1218.8 1055.9Z" fill="#000000" stroke="#000000" stroke-width="1"/><path d="M1242.6 1052.4L1248.0 1057.8L1242.6 1063.2L1237.2 1057.8Z" fill="#000000" stroke="#000000" stroke-width="1"/><path d="M1260.9 1054.4L1266.3 1059.8L1260.9 1065.2L1255.5 1059.8Z" fill="#000000" stroke="#000000" stroke-width="1"/><path d="M1279.3 1056.3L1284.7 1061.7L1279.3 1067.1L1273.9 1061.7Z" fill="#000000" stroke="#000000" stroke-width="1"/><path d="M1297.7 1058.3L1303.1 1063.7L1297.7 1069.1L1292.3 1063.7Z" fill="#000000" stroke="#000000" stroke-width="1"/><path d="M1316.0 1060.3L1321.5 1065.7L1316.0 1071.1L1310.6 1065.7Z" fill="#000000" stroke="#000000" stroke-width="1"/><path d="M1334.4 1062.2L1339.8 1067.6L1334.4 1073.0L1329.0 1067.6Z" fill="#000000" stroke="#000000" stroke-width="1"/><path d="M1352.8 1064.2L1358.2 1069.6L1352.8 1075.0L1347.4 1069.6Z" fill="#000000" stroke="#000000" stroke-width="1"/><path d="M1371.2 1066.1L1376.6 1071.5L1371.2 1076.9L1365.8 1071.5Z" fill="#000000" stroke="#000000" stroke-width="1"/><path d="M1389.5 1068.1L1394.9 1073.5L1389.5 1078.9L1384.1 1073.5Z" fill="#000000" stroke="#000000" stroke-width="1"/><path d="M1407.9 1070.0L1413.3 1075.4L1407.9 1080.8L1402.5 1075.4Z" fill="#000000" stroke="#000000" stroke-width="1"/><path d="M1426.3 1071.9L1431.7 1077.3L1426.3 1082.7L1420.9 1077.3Z" fill="#000000" stroke="#000000" stroke-width="1"/><path d="M1444.6 1073.9L1450.0 1079.3L1444.6 1084.7L1439.2 1079.3Z" fill="#000000" stroke="#000000" stroke-width="1"/><path d="M1463.0 1075.8L1468.4 1081.2L1463.0 1086.6L1457.6 1081.2Z" fill="#000000" stroke="#000000" stroke-width="1"/><path d="M1481.4 1077.7L1486.8 1083.1L1481.4 1088.5L1476.0 1083.1Z" fill="#000000" stroke="#000000" stroke-width="1"/><path d="M1499.8 1079.7L1505.2 1085.1L1499.8 1090.5L1494.3 1085.1Z" fill="#000000" stroke="#000000" stroke-width="1"/><path d="M1518.1 1081.6L1523.5 1087.0L1518.1 1092.4L1512.7 1087.0Z" fill="#000000" stroke="#000000" stroke-width="1"/><path d="M1536.5 1083.5L1541.9 1088.9L1536.5 1094.3L1531.1 1088.9Z" fill="#000000" stroke="#000000" stroke-width="1"/><path d="M1554.9 1085.4L1560.3 1090.8L1554.9 1096.2L1549.5 1090.8Z" fill="#000000" stroke="#000000" stroke-width="1"/><path d="M1573.2 1087.3L1578.6 1092.7L1573.2 1098.1L1567.8 1092.7Z" fill="#000000" stroke="#000000" stroke-width="1"/></g>
</g>
<line x1="122.0" y1="1599.0" x2="122.0" y2="1604.0" stroke="#555" stroke-width="1.3"/>
<line x1="305.7" y1="1599.0" x2="305.7" y2="1604.0" stroke="#555" stroke-width="1.3"/>
<line x1="489.4" y1="1599.0" x2="489.4" y2="1604.0" stroke="#555" stroke-width="1.3"/>
<line x1="673.1" y1="1599.0" x2="673.1" y2="1604.0" stroke="#555" stroke-width="1.3"/>
<line x1="856.8" y1="1599.0" x2="856.8" y2="1604.0" stroke="#555" stroke-width="1.3"/>
<line x1="1040.4" y1="1599.0" x2="1040.4" y2="1604.0" stroke="#555" stroke-width="1.3"/>
<line x1="1224.1" y1="1599.0" x2="1224.1" y2="1604.0" stroke="#555" stroke-width="1.3"/>
<line x1="1407.8" y1="1599.0" x2="1407.8" y2="1604.0" stroke="#555" stroke-width="1.3"/>
<line x1="1591.5" y1="1599.0" x2="1591.5" y2="1604.0" stroke="#555" stroke-width="1.3"/>
<line x1="117.0" y1="1102.3" x2="122.0" y2="1102.3" stroke="#333" stroke-width="1.3"/>
<line x1="117.0" y1="1350.7" x2="122.0" y2="1350.7" stroke="#333" stroke-width="1.3"/>
<line x1="117.0" y1="1599.0" x2="122.0" y2="1599.0" stroke="#333" stroke-width="1.3"/>
<text x="122.0" y="1626.6" text-anchor="middle" font-size="24.2">−0.4</text>
<text x="305.7" y="1626.6" text-anchor="middle" font-size="24.2">−0.3</text>
<text x="489.4" y="1626.6" text-anchor="middle" font-size="24.2">−0.2</text>
<text x="673.1" y="1626.6" text-anchor="middle" font-size="24.2">−0.1</text>
<text x="856.8" y="1626.6" text-anchor="middle" font-size="24.2">0.0</text>
<text x="1040.4" y="1626.6" text-anchor="middle" font-size="24.2">0.1</text>
<text x="1224.1" y="1626.6" text-anchor="middle" font-size="24.2">0.2</text>
<text x="1407.8" y="1626.6" text-anchor="middle" font-size="24.2">0.3</text>
<text x="1591.5" y="1626.6" text-anchor="middle" font-size="24.2">0.4</text>
<text x="111.9" y="862.8" text-anchor="end" font-size="24.2">0</text>
<text x="111.9" y="1111.2" text-anchor="end" font-size="24.2">−10</text>
<text x="111.9" y="1359.5" text-anchor="end" font-size="24.2">−20</text>
<text x="111.9" y="1607.8" text-anchor="end" font-size="24.2">−30</text>
<text x="856.8" y="1660.0" text-anchor="middle" font-size="27.7">NDWI (-)</text>
<text transform="translate(47.8 1227.0) rotate(-90)" text-anchor="middle" font-size="28.3">Backscattering coefficient(dB)</text>
<text transform="translate(148.20 892.60) scale(0.985 1)" font-family="'Liberation Sans', sans-serif" font-size="35.5">(b)</text>
<rect x="138.9" y="1506.5" width="1441.1" height="79.3" rx="4" fill="#fff" stroke="#e2e2e2" stroke-width="1.6"/>
<line x1="147.0" y1="1525.7" x2="198.8" y2="1525.7" stroke="#ff0000" stroke-width="1.9"/>
<path d="M172.9 1529.5L176.7 1521.9L169.1 1521.9Z" fill="#ff0000" stroke="#ff0000" stroke-width="1"/>
<line x1="147.0" y1="1562.1" x2="198.8" y2="1562.1" stroke="#ff0000" stroke-opacity="0.50" stroke-width="3.4"/>
<text x="218.3" y="1534.3" font-size="24.7">VV (SM = 0.1)</text>
<text x="218.3" y="1570.7" font-size="24.7">VH (SM = 0.1)</text>
<line x1="441.0" y1="1525.7" x2="492.8" y2="1525.7" stroke="#008000" stroke-width="1.9"/>
<rect x="462.7" y="1521.5" width="8.4" height="8.4" fill="#008000" stroke="#008000" stroke-width="1"/>
<line x1="441.0" y1="1562.1" x2="492.8" y2="1562.1" stroke="#008000" stroke-opacity="0.50" stroke-width="3.4"/>
<text x="512.3" y="1534.3" font-size="24.7">VV (SM = 0.2)</text>
<text x="512.3" y="1570.7" font-size="24.7">VH (SM = 0.2)</text>
<line x1="735.0" y1="1525.7" x2="786.8" y2="1525.7" stroke="#0000ff" stroke-width="1.9"/>
<circle cx="760.9" cy="1525.7" r="4.3" fill="#0000ff" stroke="#0000ff" stroke-width="1"/>
<line x1="735.0" y1="1562.1" x2="786.8" y2="1562.1" stroke="#0000ff" stroke-opacity="0.50" stroke-width="3.4"/>
<text x="806.3" y="1534.3" font-size="24.7">VV (SM = 0.3)</text>
<text x="806.3" y="1570.7" font-size="24.7">VH (SM = 0.3)</text>
<line x1="1029.0" y1="1525.7" x2="1080.8" y2="1525.7" stroke="#bf00bf" stroke-width="1.9"/>
<path d="M1054.9 1521.9L1058.7 1529.5L1051.1 1529.5Z" fill="#bf00bf" stroke="#bf00bf" stroke-width="1"/>
<line x1="1029.0" y1="1562.1" x2="1080.8" y2="1562.1" stroke="#bf00bf" stroke-opacity="0.50" stroke-width="3.4"/>
<text x="1100.3" y="1534.3" font-size="24.7">VV (SM = 0.4)</text>
<text x="1100.3" y="1570.7" font-size="24.7">VH (SM = 0.4)</text>
<line x1="1323.0" y1="1525.7" x2="1374.8" y2="1525.7" stroke="#000000" stroke-width="1.9"/>
<path d="M1348.9 1520.3L1354.3 1525.7L1348.9 1531.1L1343.5 1525.7Z" fill="#000000" stroke="#000000" stroke-width="1"/>
<line x1="1323.0" y1="1562.1" x2="1374.8" y2="1562.1" stroke="#000000" stroke-opacity="0.50" stroke-width="3.4"/>
<text x="1394.3" y="1534.3" font-size="24.7">VV (SM = 0.5)</text>
<text x="1394.3" y="1570.7" font-size="24.7">VH (SM = 0.5)</text>
</svg>
</body></html>
